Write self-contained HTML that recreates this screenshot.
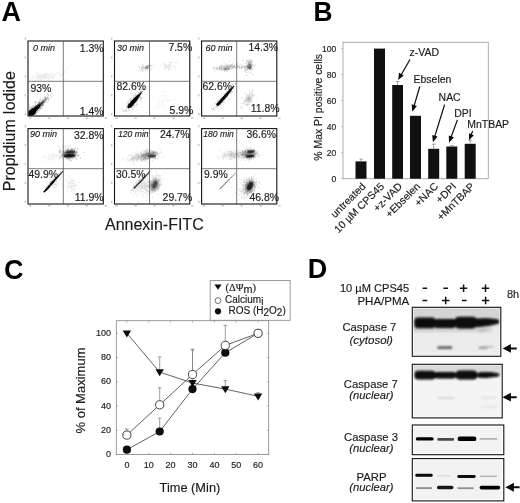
<!DOCTYPE html>
<html><head><meta charset="utf-8">
<style>
html,body{margin:0;padding:0;background:#fff;overflow:hidden;}
svg{display:block;filter:blur(0.45px);font-family:"Liberation Sans",sans-serif;fill:#1a1a1a;}
.ser{font-family:"Liberation Serif",serif;}
text{stroke:#1a1a1a;stroke-width:0.15px;}
.b{stroke:none;font-weight:bold;font-size:27px;fill:#000;}
.pc{font-size:10.45px;stroke:#1a1a1a;stroke-width:0.2;}
.tm{font-size:9px;font-style:italic;}
.it{font-style:italic;}
</style></head><body>
<svg width="520" height="503" viewBox="0 0 520 503">
<defs>
<filter id="b1" x="-50%" y="-50%" width="200%" height="200%"><feGaussianBlur stdDeviation="0.7"/></filter>
<filter id="b2" x="-50%" y="-50%" width="200%" height="200%"><feGaussianBlur stdDeviation="1.6"/></filter>
<filter id="b3" x="-50%" y="-50%" width="200%" height="200%"><feGaussianBlur stdDeviation="2.6"/></filter>
<filter id="bb" x="-20%" y="-60%" width="140%" height="220%"><feGaussianBlur stdDeviation="1.1"/></filter>
<filter id="bs" x="-20%" y="-100%" width="140%" height="300%"><feGaussianBlur stdDeviation="0.6"/></filter>

<filter id="bt" x="-20%" y="-100%" width="140%" height="300%"><feGaussianBlur stdDeviation="0.6"/></filter>
<filter id="bd" x="-5%" y="-5%" width="110%" height="110%"><feGaussianBlur stdDeviation="0.4"/></filter>
</defs>
<rect width="520" height="503" fill="#fff"/>

<!-- ===== PANEL A ===== -->
<g id="A">
<text class="b" x="1.6" y="21.4">A</text>
<!-- axis tick specks -->
<g fill="#b8b8b8"><rect x="24.7" y="37.5" width="1.1" height="2.2"/><rect x="29.0" y="117.6" width="2.4" height="1.2"/><rect x="24.7" y="56.4" width="1.1" height="2.2"/><rect x="47.9" y="117.6" width="2.4" height="1.2"/><rect x="24.7" y="75.3" width="1.1" height="2.2"/><rect x="66.8" y="117.6" width="2.4" height="1.2"/><rect x="24.7" y="94.2" width="1.1" height="2.2"/><rect x="85.7" y="117.6" width="2.4" height="1.2"/><rect x="24.7" y="113.1" width="1.1" height="2.2"/><rect x="104.6" y="117.6" width="2.4" height="1.2"/><rect x="111.2" y="37.5" width="1.1" height="2.2"/><rect x="115.5" y="117.6" width="2.4" height="1.2"/><rect x="111.2" y="56.4" width="1.1" height="2.2"/><rect x="134.4" y="117.6" width="2.4" height="1.2"/><rect x="111.2" y="75.3" width="1.1" height="2.2"/><rect x="153.3" y="117.6" width="2.4" height="1.2"/><rect x="111.2" y="94.2" width="1.1" height="2.2"/><rect x="172.2" y="117.6" width="2.4" height="1.2"/><rect x="111.2" y="113.1" width="1.1" height="2.2"/><rect x="191.1" y="117.6" width="2.4" height="1.2"/><rect x="198.3" y="37.5" width="1.1" height="2.2"/><rect x="202.6" y="117.6" width="2.4" height="1.2"/><rect x="198.3" y="56.4" width="1.1" height="2.2"/><rect x="221.5" y="117.6" width="2.4" height="1.2"/><rect x="198.3" y="75.3" width="1.1" height="2.2"/><rect x="240.4" y="117.6" width="2.4" height="1.2"/><rect x="198.3" y="94.2" width="1.1" height="2.2"/><rect x="259.3" y="117.6" width="2.4" height="1.2"/><rect x="198.3" y="113.1" width="1.1" height="2.2"/><rect x="278.2" y="117.6" width="2.4" height="1.2"/><rect x="24.7" y="125.1" width="1.1" height="2.2"/><rect x="29.0" y="205.2" width="2.4" height="1.2"/><rect x="24.7" y="144.0" width="1.1" height="2.2"/><rect x="47.9" y="205.2" width="2.4" height="1.2"/><rect x="24.7" y="162.9" width="1.1" height="2.2"/><rect x="66.8" y="205.2" width="2.4" height="1.2"/><rect x="24.7" y="181.8" width="1.1" height="2.2"/><rect x="85.7" y="205.2" width="2.4" height="1.2"/><rect x="24.7" y="200.7" width="1.1" height="2.2"/><rect x="104.6" y="205.2" width="2.4" height="1.2"/><rect x="111.2" y="125.1" width="1.1" height="2.2"/><rect x="115.5" y="205.2" width="2.4" height="1.2"/><rect x="111.2" y="144.0" width="1.1" height="2.2"/><rect x="134.4" y="205.2" width="2.4" height="1.2"/><rect x="111.2" y="162.9" width="1.1" height="2.2"/><rect x="153.3" y="205.2" width="2.4" height="1.2"/><rect x="111.2" y="181.8" width="1.1" height="2.2"/><rect x="172.2" y="205.2" width="2.4" height="1.2"/><rect x="111.2" y="200.7" width="1.1" height="2.2"/><rect x="191.1" y="205.2" width="2.4" height="1.2"/><rect x="198.3" y="125.1" width="1.1" height="2.2"/><rect x="202.6" y="205.2" width="2.4" height="1.2"/><rect x="198.3" y="144.0" width="1.1" height="2.2"/><rect x="221.5" y="205.2" width="2.4" height="1.2"/><rect x="198.3" y="162.9" width="1.1" height="2.2"/><rect x="240.4" y="205.2" width="2.4" height="1.2"/><rect x="198.3" y="181.8" width="1.1" height="2.2"/><rect x="259.3" y="205.2" width="2.4" height="1.2"/><rect x="198.3" y="200.7" width="1.1" height="2.2"/><rect x="278.2" y="205.2" width="2.4" height="1.2"/></g>





<!-- scatter clouds -->
<g fill="#000">
<clipPath id="k1"><rect x="28.5" y="41.5" width="74.5" height="74"/></clipPath><g clip-path="url(#k1)">
<ellipse cx="31.5" cy="112.8" rx="6.2" ry="3.3" transform="rotate(-42 31.5 112.8)" filter="url(#b1)" opacity="1"/>
<ellipse cx="36.5" cy="108" rx="5" ry="2.1" transform="rotate(-43 36.5 108)" filter="url(#b1)" opacity="0.95"/>
<ellipse cx="41" cy="103.8" rx="4" ry="1.5" transform="rotate(-44 41 103.8)" filter="url(#b1)" opacity="0.55"/>
<ellipse cx="28" cy="116" rx="4" ry="3" filter="url(#b1)" opacity="1"/>
<path d="M40.2 103.2h0M42.7 103.3h0M39.4 104.5h0M37.3 107.2h0M38.0 104.5h0M35.8 106.5h0M42.6 105.2h0M45.8 98.3h0M39.4 106.2h0M38.5 106.3h0M42.5 101.7h0M41.9 102.1h0M42.1 104.3h0M37.0 107.2h0M40.7 103.9h0M43.8 101.4h0M36.9 110.4h0M39.9 106.5h0M33.9 111.7h0M35.3 108.3h0M32.3 109.5h0M41.1 105.9h0M37.0 109.9h0M41.9 102.8h0M42.2 104.0h0M41.1 105.6h0M31.9 114.5h0M39.8 107.1h0M40.3 103.7h0M43.0 105.2h0M33.6 108.5h0M40.0 106.8h0M37.6 108.3h0M38.7 108.0h0M47.2 102.0h0M39.4 108.7h0M39.7 102.9h0M42.7 98.8h0M39.5 107.1h0M39.5 103.3h0M41.4 103.6h0M42.1 104.7h0M34.4 106.9h0M39.1 101.4h0M46.6 99.1h0M34.9 110.0h0M44.1 100.5h0M41.5 103.6h0M37.6 105.5h0M47.3 94.7h0M43.8 100.9h0M35.2 107.5h0M39.6 101.9h0M43.8 102.3h0M40.2 104.7h0M44.1 101.8h0M39.7 103.2h0M43.0 100.7h0M45.7 97.4h0M37.4 105.6h0M42.0 103.4h0M38.4 104.9h0M41.9 103.9h0M36.7 108.9h0M40.8 108.4h0M38.8 103.2h0M45.5 101.5h0M45.4 99.5h0M35.7 109.0h0M36.3 105.5h0M43.1 101.0h0M33.9 112.4h0M39.1 105.7h0M40.7 104.5h0M45.7 98.9h0M44.9 102.6h0M39.7 105.2h0M37.2 103.0h0M39.3 104.2h0M45.0 96.1h0M35.9 102.1h0M39.2 104.6h0M43.8 104.1h0M40.6 104.5h0M39.0 103.5h0M35.6 107.2h0M42.1 105.3h0M39.4 105.9h0M45.7 99.6h0M43.5 101.4h0M40.9 104.1h0M44.5 102.3h0M40.2 105.9h0M45.4 100.2h0M39.9 102.9h0M43.8 102.3h0M35.2 108.2h0M43.5 103.9h0M33.0 109.1h0M32.8 111.6h0M39.8 105.2h0M36.1 106.0h0M43.4 105.2h0M51.4 97.0h0M37.2 106.7h0M39.3 107.2h0M42.2 103.6h0M40.2 99.3h0M40.6 104.9h0M40.1 104.7h0M43.9 101.4h0M41.9 100.9h0M36.6 107.7h0M40.5 104.1h0M42.4 105.1h0M37.2 108.4h0M42.0 103.0h0M39.2 108.9h0M44.3 99.7h0M41.4 102.8h0M39.5 101.7h0M40.3 108.0h0M41.5 105.5h0M34.1 112.6h0M37.2 109.0h0M42.6 102.7h0M32.8 112.4h0M44.1 100.5h0M33.9 110.5h0M44.1 101.2h0M39.2 108.9h0M44.7 101.6h0M41.5 103.4h0M34.3 109.2h0M45.3 98.5h0M48.4 100.2h0M41.3 104.8h0M40.0 105.1h0M40.0 104.2h0M36.0 106.5h0M45.3 99.7h0M39.8 107.0h0M40.4 103.8h0M37.6 106.8h0M38.3 106.2h0M36.1 109.0h0M44.3 97.5h0M40.1 104.3h0M43.9 99.4h0M42.0 104.9h0M37.4 105.8h0M40.3 105.9h0M40.4 107.8h0M40.7 103.6h0M38.9 104.8h0M40.0 105.4h0M35.5 109.3h0M36.8 106.0h0M48.0 98.2h0M40.4 108.7h0M36.6 107.7h0M42.1 102.5h0M45.5 97.5h0M35.6 109.9h0M38.9 103.5h0M37.3 105.2h0M35.4 112.1h0M43.0 100.2h0M42.0 105.3h0M42.9 105.4h0" stroke="#000" stroke-width="0.8" stroke-linecap="round" opacity="0.4" fill="none" filter="url(#bd)"/>
<path d="M34.3 109.1h0M33.0 105.7h0M38.7 102.6h0M35.9 114.0h0M33.6 114.0h0M32.5 108.6h0M35.4 102.1h0M36.5 106.8h0M30.8 113.3h0M31.0 112.9h0M32.1 111.8h0M32.9 107.3h0M33.2 111.0h0M34.6 109.8h0M37.4 112.3h0M36.5 115.3h0M33.6 110.3h0M33.3 108.3h0M33.6 110.6h0M34.5 107.7h0M38.9 103.3h0M35.9 108.6h0M32.2 108.2h0M35.1 109.1h0M28.9 114.4h0M35.5 106.4h0M34.6 106.4h0M33.1 110.5h0M33.2 112.1h0M31.7 112.5h0M33.6 105.7h0M41.7 103.8h0M32.2 107.1h0M30.2 111.6h0M29.5 113.4h0M29.9 106.4h0M33.6 111.2h0M30.4 114.3h0M34.1 109.8h0M29.4 113.1h0M37.0 106.4h0M35.7 105.3h0M37.1 106.7h0M31.4 110.8h0M35.9 109.1h0M31.3 108.4h0M33.1 112.2h0M33.1 111.8h0M29.4 114.1h0M37.7 109.3h0M30.2 107.6h0M35.6 110.8h0M37.8 108.0h0M32.1 113.7h0M33.4 108.6h0M34.8 108.8h0M33.9 113.0h0M38.2 108.3h0M35.1 110.3h0M31.9 114.4h0M38.9 110.5h0M37.4 111.2h0M35.6 103.2h0M37.8 110.7h0M38.2 106.1h0M33.7 112.2h0M40.1 100.2h0M32.2 109.7h0M41.7 108.4h0M31.1 111.7h0M35.1 110.6h0M35.7 115.0h0M37.1 107.3h0M29.4 113.8h0M35.2 104.6h0M33.8 108.0h0M31.3 114.5h0M33.1 112.8h0M32.7 112.1h0M35.7 112.7h0M30.8 110.5h0M31.1 112.9h0M34.4 112.9h0M31.7 114.8h0M34.6 111.5h0M36.4 107.2h0M32.1 108.4h0M31.8 114.7h0M36.8 107.8h0M32.8 112.7h0M35.8 102.5h0M30.7 112.1h0M34.2 108.1h0M31.6 109.4h0M35.3 108.0h0M35.2 112.8h0M36.7 109.5h0M32.7 109.4h0M30.3 113.7h0M35.1 112.4h0M29.0 104.6h0M37.0 107.4h0M32.0 114.4h0M35.1 112.0h0M38.3 110.9h0M31.0 114.4h0M35.3 112.3h0M36.7 106.0h0M28.8 115.0h0M29.9 113.6h0M35.2 109.3h0M31.7 113.3h0M35.9 108.7h0M33.6 107.2h0M30.4 113.0h0M29.6 113.7h0M42.2 107.1h0M30.1 108.3h0M33.1 107.9h0M34.5 111.3h0M33.3 108.6h0M31.3 107.2h0M42.3 106.9h0M31.5 114.7h0M29.7 112.6h0M36.0 107.8h0M38.8 110.3h0M29.1 111.5h0M33.2 112.0h0M37.3 104.8h0M36.2 109.5h0M37.6 107.5h0M29.7 113.0h0" stroke="#000" stroke-width="0.8" stroke-linecap="round" opacity="0.4" fill="none" filter="url(#bd)"/>
<path d="M48.8 95.9h0M46.3 99.9h0M44.7 97.6h0M48.7 94.6h0M51.4 92.9h0M53.4 95.9h0M47.9 98.7h0M47.4 97.4h0M50.9 95.4h0M48.5 100.0h0M44.7 99.9h0M46.9 97.4h0M49.0 98.1h0M45.7 100.2h0M44.1 102.1h0M43.5 100.6h0M50.0 98.2h0M46.8 101.1h0M47.2 98.8h0M48.0 98.1h0M46.6 95.0h0M46.8 99.3h0M47.9 96.8h0M45.5 100.3h0M46.8 99.3h0M44.5 99.9h0M48.0 94.2h0M47.3 98.4h0M44.8 98.9h0M46.0 98.5h0" stroke="#000" stroke-width="0.8" stroke-linecap="round" opacity="0.3" fill="none" filter="url(#bd)"/>
<ellipse cx="44" cy="77" rx="13" ry="2.2" transform="rotate(-3 44 77)" filter="url(#b2)" opacity="0.06"/>
<path d="M38.4 77.7h0M41.5 80.4h0M58.1 72.0h0M47.7 74.6h0M57.0 73.5h0M66.5 72.2h0M45.3 77.5h0M34.9 72.6h0M31.9 79.0h0M39.5 76.6h0M45.9 77.3h0M48.9 77.7h0M48.5 79.1h0M43.9 77.6h0M41.6 77.6h0M44.3 77.5h0M38.8 73.6h0M38.3 76.6h0M44.7 77.0h0M65.0 72.0h0M67.0 78.7h0M59.5 75.7h0M52.6 73.2h0M37.3 73.1h0M60.8 74.7h0M44.4 76.3h0M44.1 74.9h0M41.8 76.9h0M45.9 75.0h0M40.3 78.1h0M44.0 74.9h0M33.1 77.2h0M41.1 79.0h0M70.4 80.7h0M44.1 74.2h0M42.3 75.6h0M50.7 74.2h0M52.9 77.8h0M32.6 74.7h0M42.6 75.5h0M55.1 75.7h0M47.8 74.0h0M46.2 74.2h0M62.0 74.2h0M37.2 72.2h0M45.7 73.1h0M39.2 76.0h0M61.4 75.7h0M37.4 72.9h0M39.1 75.8h0M52.4 77.8h0M51.7 77.3h0M60.3 75.2h0M53.3 77.4h0M41.7 75.4h0M37.5 74.3h0M50.8 74.2h0M35.1 80.5h0M41.1 79.4h0M38.0 79.2h0M49.0 74.8h0" stroke="#000" stroke-width="0.9" stroke-linecap="round" opacity="0.1" fill="none" filter="url(#bd)"/>
<path d="M59.3 72.8h0M75.9 71.9h0M63.4 67.8h0M57.1 72.7h0M60.0 73.5h0M62.6 73.4h0M66.4 68.3h0M57.6 73.9h0M49.9 74.8h0M58.5 72.9h0M60.0 71.6h0M59.4 68.6h0M67.4 69.2h0M62.7 73.8h0M63.6 67.6h0M53.5 73.6h0M65.6 72.1h0M70.7 64.7h0M64.5 70.9h0M60.3 68.5h0" stroke="#000" stroke-width="0.9" stroke-linecap="round" opacity="0.07" fill="none" filter="url(#bd)"/>
</g>
<path d="M127.8 108.2 L127.4 105.8 L134 98 L143.2 90.4 L137 100.6 L131.2 107.4z" filter="url(#b1)" opacity="0.95"/>
<path d="M128.8 106.8 L129.3 104.2 L134 99.2 L139 95.2 L135.6 100.8 L131.4 105.8z" filter="url(#bs)" opacity="1"/>
<path d="M139.9 96.3h0M143.2 89.1h0M141.0 89.7h0M131.1 100.4h0M136.2 96.6h0M131.6 98.0h0M135.4 101.3h0M139.6 92.6h0M129.1 108.1h0M140.8 97.8h0M135.3 102.5h0M138.4 92.7h0M135.9 101.0h0M132.7 105.6h0M134.2 98.8h0M135.8 96.3h0M134.0 100.7h0M134.0 96.8h0M133.7 105.2h0M122.0 109.0h0M136.3 95.3h0M136.6 97.2h0M134.3 100.0h0M134.5 100.8h0M138.7 96.1h0M131.8 103.0h0M132.5 105.8h0M130.4 99.6h0M139.0 95.1h0M127.3 107.1h0M139.2 95.2h0M131.6 104.4h0M128.2 105.5h0M138.4 94.0h0M134.6 102.3h0M129.0 107.9h0M131.6 102.0h0M140.5 98.6h0M142.0 97.6h0M130.3 101.5h0M136.1 99.3h0M140.3 100.2h0M132.3 105.1h0M135.8 99.5h0M133.6 100.9h0M131.1 103.1h0M131.7 103.2h0M133.6 100.1h0M135.1 101.7h0M131.1 103.4h0M131.6 102.6h0M137.1 94.1h0M134.8 99.9h0M136.5 95.6h0M138.8 94.8h0M137.8 99.2h0M144.0 90.1h0M131.2 105.7h0M137.8 97.4h0M132.7 102.6h0M141.6 91.6h0M140.7 92.2h0M126.8 111.6h0M128.5 104.6h0M138.5 99.2h0M137.3 97.1h0M136.1 96.5h0M133.1 100.8h0M135.0 98.0h0M136.9 97.9h0M132.7 100.6h0M139.8 97.1h0M123.5 111.4h0M133.7 95.4h0M128.7 105.4h0M135.4 94.0h0M133.0 102.1h0M131.7 106.6h0M136.4 99.8h0M128.5 104.1h0M129.2 104.7h0M129.8 110.7h0M134.3 101.5h0M136.1 98.5h0M139.6 97.1h0M136.6 104.4h0M140.1 97.2h0M134.3 101.1h0M134.1 101.9h0M137.2 98.8h0M137.6 95.1h0M131.2 101.5h0M133.0 102.3h0M132.1 100.8h0M134.3 100.5h0M130.4 105.6h0M141.3 98.4h0M131.2 102.1h0M135.8 98.6h0M130.3 104.9h0M136.1 99.7h0M137.0 100.2h0M131.6 102.6h0M141.4 90.0h0M133.4 97.4h0M140.2 91.1h0M138.7 96.8h0M131.3 104.3h0M131.1 101.8h0M135.3 98.4h0M134.3 100.7h0M134.9 101.3h0M132.0 101.8h0M126.1 109.7h0M130.7 100.1h0M123.2 110.8h0M137.7 100.9h0M128.1 102.2h0M130.6 104.2h0M133.4 102.3h0M134.7 99.2h0M127.0 107.2h0M126.6 109.6h0M129.5 106.3h0M125.4 111.1h0M127.5 103.8h0M140.5 92.9h0M128.5 105.3h0M136.0 97.2h0M128.6 108.1h0M136.1 100.2h0M133.8 103.6h0M133.1 100.8h0M137.6 99.2h0M142.9 93.5h0M136.3 101.3h0M136.3 101.9h0M129.7 105.7h0M136.2 97.9h0M134.0 103.1h0M135.7 95.4h0M134.1 101.4h0M140.6 91.8h0M125.2 110.5h0M130.5 100.6h0M136.5 95.6h0M132.5 102.7h0M131.8 105.9h0M134.2 103.4h0M128.1 107.8h0M134.3 100.2h0M143.1 87.9h0M139.3 95.7h0M129.0 106.3h0M131.1 106.0h0M134.6 104.9h0M138.2 96.0h0M128.6 103.5h0M130.0 103.5h0M135.8 95.0h0" stroke="#000" stroke-width="0.8" stroke-linecap="round" opacity="0.35" fill="none" filter="url(#bd)"/>
<path d="M126.5 107.5h0M133.1 100.0h0M132.8 105.3h0M128.4 110.8h0M135.9 105.7h0M135.2 101.9h0M132.5 108.1h0M132.7 110.0h0M130.5 106.4h0M128.3 101.3h0M129.9 100.8h0M130.7 98.6h0M137.8 104.4h0M132.1 99.7h0M137.3 103.2h0M134.0 104.1h0M131.0 113.0h0M133.0 107.3h0M131.6 103.8h0M129.6 105.8h0M133.5 102.4h0M130.5 106.4h0M127.4 106.8h0M134.6 100.5h0M136.4 106.1h0M127.7 101.0h0M134.0 102.7h0M131.6 100.0h0M132.3 104.3h0M126.6 114.2h0M129.1 107.0h0M131.6 107.9h0M124.8 104.9h0M134.1 106.5h0M132.7 100.2h0M131.2 107.7h0M128.5 108.8h0M130.3 93.8h0M128.1 104.9h0M128.3 109.2h0M135.2 107.3h0M132.8 104.2h0M129.8 107.7h0M129.8 99.9h0M133.0 109.3h0M132.8 111.3h0M131.5 104.5h0M132.5 102.2h0M125.6 103.8h0M133.9 105.7h0M137.0 110.5h0M139.9 97.7h0M132.1 109.6h0M135.8 101.8h0M128.6 103.3h0M133.7 108.0h0M130.0 100.4h0M132.8 101.9h0M134.9 101.7h0M133.9 105.7h0" stroke="#000" stroke-width="0.8" stroke-linecap="round" opacity="0.18" fill="none" filter="url(#bd)"/>
<ellipse cx="147" cy="67.2" rx="2.6" ry="1.5" transform="rotate(-15 147 67.2)" filter="url(#b1)" opacity="0.26"/>
<path d="M146.9 65.8h0M147.1 67.1h0M143.2 65.3h0M141.8 66.2h0M146.2 67.7h0M143.6 66.8h0M142.1 68.2h0M142.3 68.3h0M145.1 70.4h0M140.9 70.4h0M142.0 68.4h0M141.5 70.2h0M146.3 66.5h0M147.1 66.9h0M152.1 67.5h0M141.3 67.0h0M143.9 67.7h0M148.3 65.4h0M145.4 67.9h0M145.5 69.9h0M150.8 65.6h0M145.1 68.1h0M142.4 67.2h0M141.8 67.0h0M146.7 65.8h0M147.3 69.3h0M142.6 71.5h0M143.2 68.8h0M147.4 66.4h0M147.9 68.1h0M144.0 67.6h0M148.0 68.2h0M147.8 67.6h0M140.8 69.1h0M145.2 68.6h0M147.1 66.6h0M144.2 67.4h0M139.3 66.7h0M145.1 67.2h0M147.8 65.3h0M150.6 66.4h0M139.3 67.7h0M153.7 66.1h0M142.8 68.9h0M148.4 65.2h0M149.4 65.8h0M148.6 65.8h0M146.6 68.5h0M143.1 70.5h0M148.1 68.3h0M143.8 67.6h0M139.0 71.0h0M153.9 63.9h0M148.5 69.1h0M151.2 65.6h0M142.6 64.6h0M151.0 70.1h0M151.1 68.6h0M150.3 65.3h0M146.0 67.8h0" stroke="#000" stroke-width="0.8" stroke-linecap="round" opacity="0.28" fill="none" filter="url(#bd)"/>
<path d="M167.5 66.0h0M168.8 66.2h0M164.2 69.1h0M164.9 64.1h0M171.6 69.4h0M170.1 68.0h0M172.7 65.8h0M168.2 65.2h0M175.5 62.4h0M166.6 68.1h0M169.5 66.5h0M160.8 65.3h0M165.1 69.3h0M175.2 70.0h0M163.6 63.6h0M170.9 67.3h0M168.5 66.8h0M165.0 67.3h0M168.5 69.3h0M165.6 64.3h0M167.0 67.0h0M172.0 67.9h0M170.1 64.7h0M166.1 66.0h0M165.6 67.5h0M168.7 64.7h0M169.5 69.3h0M170.6 62.7h0M177.3 64.0h0M169.7 62.2h0M168.8 67.4h0M167.7 66.0h0M163.2 61.9h0M165.5 67.3h0M164.2 65.3h0M166.7 65.7h0M168.5 69.8h0M169.5 62.6h0M166.1 64.4h0M169.1 69.2h0M164.7 68.0h0M174.8 66.8h0M170.2 65.9h0M173.0 61.6h0M170.7 64.7h0M174.1 66.4h0M168.4 68.3h0M170.5 65.0h0M176.7 62.2h0M164.4 67.5h0M171.4 63.1h0M175.4 67.5h0M169.6 65.4h0M169.6 62.6h0M171.8 63.2h0M166.9 68.5h0M170.2 66.7h0M165.4 67.0h0M165.5 65.6h0M166.4 67.0h0" stroke="#000" stroke-width="0.8" stroke-linecap="round" opacity="0.16" fill="none" filter="url(#bd)"/>
<path d="M152.2 109.7h0M157.8 99.9h0M165.4 110.6h0M161.6 101.7h0M165.1 105.1h0M173.3 95.0h0M167.9 101.4h0M164.7 100.6h0M175.3 103.4h0M172.1 90.0h0M161.0 105.3h0M168.8 100.1h0M167.4 99.2h0M160.9 98.1h0M165.3 99.8h0M162.9 103.0h0M157.6 90.4h0M165.6 95.4h0M162.5 102.1h0M162.1 101.1h0M157.3 96.0h0M164.0 97.1h0M166.0 96.2h0M165.1 100.9h0M156.6 105.7h0M169.7 96.1h0M155.5 107.5h0M161.7 105.4h0M171.7 100.7h0M159.5 104.2h0M165.0 91.8h0M173.2 93.1h0M165.3 93.1h0M163.9 98.2h0M166.2 99.6h0M170.6 99.9h0M153.7 97.7h0M164.9 87.5h0M158.6 102.0h0M162.2 91.1h0M161.7 95.8h0M161.3 97.2h0M168.3 95.0h0M163.0 91.7h0M167.2 95.5h0M166.5 101.6h0M159.8 103.0h0M164.0 104.4h0M174.4 98.3h0M167.7 97.1h0M163.3 94.7h0M163.3 103.4h0M164.3 87.9h0M163.3 108.5h0M169.6 99.8h0M162.2 95.1h0M162.8 102.5h0M167.7 108.8h0M161.4 102.1h0M163.2 107.3h0M159.3 100.0h0M158.0 106.5h0M159.5 107.1h0M174.9 104.2h0M159.6 108.4h0M161.7 101.0h0M161.7 100.5h0M165.6 95.5h0M168.2 100.5h0M163.8 105.7h0" stroke="#000" stroke-width="0.8" stroke-linecap="round" opacity="0.09" fill="none" filter="url(#bd)"/>
<path d="M216.6 105.6 L216.2 104.2 L225 94.5 L233.8 85.4 L234.4 86.2 L227 96.6 L218.4 106z" filter="url(#bs)" opacity="1"/>
<path d="M219 102.5 L226 94.5 L231 89.6 L227 96 L221 102.6z" filter="url(#bs)" opacity="1"/>
<path d="M218.9 104.6h0M227.3 92.5h0M227.7 95.8h0M225.8 94.9h0M214.5 109.7h0M223.9 97.0h0M227.5 92.7h0M222.4 102.3h0M224.7 95.8h0M211.7 109.0h0M227.2 92.2h0M221.0 100.0h0M230.6 93.1h0M215.6 107.1h0M228.7 93.3h0M222.5 97.1h0M228.8 92.2h0M220.5 102.2h0M223.0 101.3h0M235.0 83.3h0M220.9 101.6h0M221.3 100.7h0M222.3 97.3h0M219.5 102.3h0M230.1 89.6h0M231.1 85.1h0M221.5 100.9h0M216.5 106.7h0M229.9 89.5h0M228.8 89.3h0M229.8 92.9h0M230.4 90.1h0M221.1 102.1h0M224.8 98.5h0M217.3 104.0h0M218.2 105.1h0M229.1 90.8h0M221.1 100.3h0M235.6 83.5h0M224.9 96.1h0M222.3 100.9h0M228.5 92.1h0M233.2 86.2h0M226.7 93.5h0M218.8 103.6h0M225.6 93.8h0M230.9 88.4h0M222.0 99.3h0M220.2 100.5h0M229.4 90.7h0M224.7 95.3h0M220.7 104.2h0M223.7 99.6h0M221.2 101.1h0M225.9 94.8h0M226.9 97.5h0M230.4 90.2h0M227.9 92.4h0M217.1 105.6h0M226.8 94.4h0M230.1 92.4h0M226.7 93.9h0M231.3 92.2h0M221.1 99.0h0M220.4 102.4h0M228.2 90.5h0M220.8 103.8h0M213.6 108.5h0M229.5 90.7h0M221.7 101.3h0M224.0 99.1h0M216.7 103.6h0M217.7 103.8h0M217.7 102.0h0M222.8 98.6h0M226.2 94.3h0M212.9 109.3h0M227.6 91.7h0M218.4 102.9h0M218.6 102.0h0M228.3 93.0h0M225.4 98.0h0M215.3 103.8h0M233.5 86.0h0M219.9 101.1h0M226.1 95.5h0M224.7 94.7h0M231.3 88.4h0M221.4 98.3h0M230.0 91.3h0M220.9 100.8h0M229.9 90.0h0M221.1 101.1h0M222.5 98.4h0M232.5 84.6h0M226.6 95.1h0M225.3 96.1h0M235.4 83.7h0M227.1 95.2h0M221.5 102.0h0M227.2 91.6h0M218.0 102.6h0M231.3 91.2h0M231.6 90.7h0M221.1 99.2h0M220.4 99.2h0M224.8 95.0h0M224.2 96.1h0M218.4 100.9h0M227.3 93.3h0M213.4 107.1h0M221.4 98.1h0M223.3 99.4h0M222.6 97.6h0M226.0 94.7h0M219.0 103.9h0M228.1 93.8h0M223.3 97.3h0M221.3 100.2h0M217.1 103.6h0M220.1 104.5h0M226.8 94.9h0M218.8 101.2h0M224.8 96.1h0M230.3 91.0h0M230.0 91.0h0M233.7 89.0h0M224.2 99.2h0M218.7 102.3h0M229.4 90.7h0M225.0 93.8h0M230.2 90.3h0M224.7 96.5h0M232.6 91.7h0M228.7 91.8h0M226.3 90.9h0M226.4 93.2h0M226.6 94.3h0M224.6 94.3h0M224.9 94.6h0" stroke="#000" stroke-width="0.8" stroke-linecap="round" opacity="0.4" fill="none" filter="url(#bd)"/>
<path d="M221.0 101.6h0M223.2 98.7h0M220.2 99.5h0M217.1 101.6h0M221.9 94.7h0M223.9 105.2h0M217.7 99.6h0M220.5 107.9h0M220.6 104.0h0M223.4 96.9h0M214.4 104.1h0M223.8 102.0h0M227.7 100.2h0M218.9 99.8h0M222.2 98.6h0M220.4 106.0h0M227.0 95.6h0M229.5 99.3h0M221.7 98.1h0M217.3 107.5h0M216.1 101.8h0M229.3 99.9h0M226.2 92.3h0M218.6 95.1h0M225.8 95.1h0M219.7 102.1h0M225.1 104.0h0M221.3 99.4h0M223.4 98.4h0M218.1 106.8h0M228.2 99.2h0M226.2 94.9h0M220.3 106.1h0M218.6 106.0h0M222.6 98.2h0M220.0 102.6h0M214.3 109.0h0M222.9 95.4h0M224.9 101.5h0M217.7 99.4h0M231.2 94.0h0M224.3 101.1h0M219.3 102.7h0M220.8 98.3h0M218.1 103.5h0M220.4 103.7h0M224.7 99.8h0M220.7 102.6h0M222.5 103.4h0M226.4 92.8h0M225.3 97.2h0M221.6 94.3h0M225.2 99.3h0M223.9 98.4h0M226.0 93.8h0M224.2 102.1h0M229.4 94.2h0M213.4 98.8h0M221.2 101.0h0M214.6 102.7h0M223.0 103.1h0M228.6 102.3h0M225.7 93.6h0M220.0 102.6h0M221.5 99.6h0M221.5 102.0h0M220.8 103.9h0M220.6 106.7h0M220.3 98.1h0M219.4 109.2h0" stroke="#000" stroke-width="0.8" stroke-linecap="round" opacity="0.15" fill="none" filter="url(#bd)"/>
<ellipse cx="226.6" cy="69" rx="3.2" ry="1.5" transform="rotate(-10 226.6 69)" filter="url(#b1)" opacity="0.3"/>
<path d="M220.4 67.6h0M227.7 67.5h0M232.9 66.5h0M230.1 66.0h0M220.3 67.4h0M221.9 69.1h0M223.3 68.8h0M225.9 69.6h0M232.6 64.1h0M218.2 67.7h0M228.7 66.5h0M229.7 67.4h0M229.3 66.4h0M228.7 66.4h0M235.2 67.8h0M228.9 67.5h0M230.9 65.1h0M229.6 69.3h0M236.9 68.0h0M214.6 67.8h0M233.8 68.0h0M224.3 66.5h0M224.5 69.5h0M220.2 67.8h0M214.7 67.4h0M223.7 67.1h0M221.8 66.7h0M229.0 67.5h0M217.2 68.7h0M234.5 66.7h0M227.5 66.4h0M223.9 61.8h0M221.8 68.1h0M221.0 65.0h0M219.3 68.6h0M222.9 69.6h0M226.1 67.9h0M224.9 67.0h0M217.5 68.1h0M224.4 67.5h0M220.6 67.2h0M226.9 66.5h0M237.0 64.9h0M229.9 69.0h0M224.1 67.7h0M216.5 70.0h0M217.5 68.0h0M215.9 68.7h0M230.3 66.8h0M221.5 68.7h0M226.5 68.8h0M222.3 68.3h0M226.4 66.4h0M234.2 65.4h0M222.2 70.6h0M223.9 67.3h0M221.1 67.5h0M231.5 69.3h0M220.1 69.9h0M219.3 69.1h0M217.7 67.7h0M218.0 72.1h0M228.9 67.8h0M241.4 66.8h0M220.0 67.9h0M231.4 64.7h0M227.3 65.2h0M219.5 68.8h0M224.4 68.3h0M224.6 67.3h0M221.7 66.1h0M237.3 64.0h0M214.6 68.2h0M228.0 64.9h0M228.1 68.7h0M222.7 69.7h0M227.4 71.9h0M231.4 68.3h0M226.8 66.5h0M228.3 65.9h0M229.6 61.6h0M213.8 67.8h0M234.8 66.3h0M239.8 67.6h0M232.0 67.9h0M232.1 67.8h0M217.6 68.7h0M225.4 68.6h0M221.4 70.3h0M222.3 66.2h0M231.7 66.2h0M221.0 65.8h0M225.5 70.2h0M214.8 70.8h0M225.2 68.8h0M226.3 65.5h0M221.8 68.2h0M221.7 67.6h0M237.3 66.4h0M218.7 68.0h0M219.8 69.0h0M221.1 67.4h0M233.3 68.1h0M238.6 66.6h0M227.9 66.8h0M221.7 67.8h0M223.4 67.1h0M232.5 68.1h0M220.5 67.6h0M234.7 67.1h0M234.4 66.0h0M226.2 65.1h0M230.0 68.5h0M230.3 65.3h0M235.4 67.6h0M219.8 68.8h0M232.8 64.1h0M223.6 66.2h0M221.3 67.2h0M226.5 66.1h0M224.5 65.8h0M220.2 69.3h0M216.4 68.1h0M220.4 68.7h0M234.6 65.9h0M237.8 66.8h0M229.8 65.9h0M233.1 66.7h0M223.0 68.7h0M225.5 67.6h0M227.6 66.6h0M219.4 66.4h0M220.1 68.4h0M226.6 68.0h0M224.0 67.3h0M219.5 66.9h0M228.4 68.1h0M224.8 71.6h0M232.0 66.4h0M226.0 68.0h0" stroke="#000" stroke-width="0.8" stroke-linecap="round" opacity="0.28" fill="none" filter="url(#bd)"/>
<path d="M233.7 66.5h0M213.1 67.2h0M231.9 66.4h0M225.9 64.1h0M240.6 64.4h0M229.2 65.5h0M225.6 66.4h0M229.4 65.4h0M232.2 67.0h0M227.1 66.2h0M230.6 66.0h0M221.5 66.7h0M229.5 67.0h0M236.4 65.1h0M244.8 66.4h0M236.0 66.2h0M232.9 66.1h0M239.3 65.5h0M238.2 66.1h0M242.7 66.4h0M238.6 66.6h0M230.2 66.5h0M232.9 66.9h0M232.3 66.1h0M233.2 67.4h0M232.4 65.9h0M225.4 63.9h0M216.4 68.6h0M226.3 66.5h0M216.8 65.6h0M231.5 65.7h0M231.0 64.9h0M219.5 69.3h0M235.8 66.3h0M236.9 63.7h0M231.7 66.6h0M242.6 64.7h0M244.2 67.4h0M222.5 65.3h0M238.1 62.8h0M234.1 65.9h0M233.9 65.4h0M237.5 65.0h0M225.8 63.8h0M226.9 66.8h0M225.4 68.4h0M225.6 64.1h0M230.4 67.5h0M220.8 66.0h0M223.9 69.3h0" stroke="#000" stroke-width="0.7" stroke-linecap="round" opacity="0.2" fill="none" filter="url(#bd)"/>
<ellipse cx="249.3" cy="66.5" rx="2.2" ry="3" filter="url(#b1)" opacity="0.4"/>
<path d="M250.2 66.4h0M248.6 66.9h0M250.6 72.6h0M250.1 67.7h0M248.4 62.5h0M250.5 68.3h0M248.6 62.6h0M246.1 60.1h0M252.5 74.5h0M248.3 66.4h0M247.5 67.5h0M249.8 67.4h0M244.8 70.6h0M246.1 65.9h0M247.5 69.1h0M248.7 62.1h0M250.2 61.1h0M251.0 70.4h0M247.4 70.0h0M250.1 67.3h0M250.5 66.5h0M246.8 65.6h0M250.2 63.4h0M246.3 70.0h0M251.3 68.0h0M250.0 67.3h0M249.1 66.7h0M245.7 68.3h0M249.3 67.1h0M247.1 67.5h0M251.5 62.1h0M248.7 67.1h0M246.2 72.1h0M251.7 64.2h0M251.0 65.4h0M247.5 68.1h0M251.4 69.0h0M248.3 67.3h0M249.5 60.3h0M249.3 67.1h0M248.3 61.5h0M248.8 62.7h0M248.6 67.2h0M252.9 65.2h0M252.2 68.7h0M247.0 75.3h0M252.5 68.6h0M248.8 67.8h0M250.7 62.8h0M251.7 63.8h0M250.6 62.3h0M255.1 64.8h0M250.5 62.2h0M247.0 62.9h0M252.4 65.4h0M248.9 62.2h0M249.4 60.9h0M243.3 60.0h0M251.3 67.3h0M251.1 66.0h0M250.5 69.1h0M250.9 69.2h0M253.3 65.1h0M248.8 67.6h0M252.2 61.3h0M246.3 72.4h0M247.8 69.1h0M251.8 65.2h0M250.8 62.0h0M246.1 66.2h0M251.2 59.8h0M249.3 63.0h0M247.0 67.5h0M250.2 65.9h0M248.7 63.8h0M245.2 67.9h0M247.4 61.8h0M253.1 67.1h0M246.1 63.3h0M250.3 62.9h0M250.4 67.2h0M251.3 62.6h0M245.5 71.0h0M248.9 63.5h0M248.5 71.8h0M251.7 62.4h0M247.5 67.2h0M247.3 61.3h0M252.3 61.7h0M251.7 66.4h0M249.8 67.8h0M248.6 61.2h0M249.6 69.4h0M250.0 63.0h0M251.1 66.2h0M246.3 66.2h0M249.2 67.4h0M249.9 59.8h0M245.9 70.2h0M249.5 67.4h0M249.6 64.2h0M248.9 62.1h0M251.1 60.3h0M246.8 60.6h0M248.9 67.2h0M250.5 64.6h0M250.6 62.0h0M252.0 64.3h0M245.7 69.9h0M246.1 63.9h0" stroke="#000" stroke-width="0.8" stroke-linecap="round" opacity="0.33" fill="none" filter="url(#bd)"/>
<path d="M241.7 68.2h0M249.4 68.4h0M245.8 68.5h0M244.2 66.2h0M241.6 69.0h0M237.8 67.1h0M239.3 66.7h0M242.1 66.8h0M243.1 67.6h0M245.4 67.1h0M246.2 66.8h0M244.9 68.3h0M244.9 66.3h0M240.0 66.0h0M235.4 67.8h0M241.9 67.7h0M240.2 68.1h0M241.4 65.9h0M242.9 68.1h0M239.0 67.5h0M239.6 68.8h0M243.6 65.8h0M244.5 67.2h0M241.4 66.7h0M246.0 65.4h0M243.1 66.3h0M239.9 68.1h0M244.2 66.5h0M251.5 66.3h0M241.3 67.9h0" stroke="#000" stroke-width="0.7" stroke-linecap="round" opacity="0.25" fill="none" filter="url(#bd)"/>
<ellipse cx="249" cy="98.5" rx="1.8" ry="3" transform="rotate(30 249 98.5)" filter="url(#b2)" opacity="0.3"/>
<path d="M249.5 102.0h0M253.8 95.9h0M243.1 103.7h0M246.9 101.3h0M254.4 95.2h0M246.8 98.9h0M248.8 95.8h0M251.5 98.4h0M250.9 102.5h0M247.8 95.5h0M240.1 100.4h0M247.2 95.1h0M243.2 102.6h0M247.9 99.6h0M246.8 104.4h0M249.3 97.6h0M248.1 97.0h0M251.6 95.5h0M244.5 101.0h0M245.2 103.8h0M240.7 107.8h0M249.6 109.0h0M248.9 102.1h0M247.0 98.0h0M244.9 100.2h0M247.2 99.3h0M240.6 103.7h0M243.9 102.9h0M248.9 95.6h0M251.7 98.4h0M243.2 105.0h0M245.6 100.2h0M246.0 97.2h0M242.3 103.2h0M249.0 98.3h0M248.4 98.6h0M251.6 99.7h0M252.4 91.1h0M247.6 105.0h0M252.0 95.4h0M249.6 97.7h0M246.2 94.2h0M243.4 101.2h0M249.7 100.7h0M250.7 102.0h0M253.2 93.4h0M249.7 100.7h0M251.4 93.4h0M246.4 100.7h0M245.6 100.6h0M250.0 101.3h0M242.8 108.8h0M246.0 101.8h0M245.6 102.0h0M248.7 101.3h0M249.2 99.7h0M243.6 102.8h0M248.2 106.9h0M252.2 95.0h0M245.0 104.3h0M249.4 104.1h0M247.3 105.3h0M246.5 101.8h0M252.6 95.6h0M249.3 93.7h0M241.5 106.6h0M242.8 97.9h0M254.5 95.9h0M243.3 98.8h0M250.4 99.5h0M251.7 91.3h0M252.6 89.3h0M252.2 93.2h0M247.7 101.5h0M249.3 100.6h0M252.2 101.4h0M247.9 101.7h0M248.0 103.7h0M252.9 90.6h0M250.3 99.7h0M250.7 96.8h0M250.6 94.3h0M249.4 97.6h0M248.2 99.4h0M249.1 99.2h0M253.0 94.6h0M248.4 97.3h0M240.8 107.2h0M252.5 96.7h0M249.5 90.8h0M246.0 100.3h0M249.3 104.6h0M241.3 98.2h0M249.8 94.5h0M246.5 105.0h0M247.0 94.5h0M256.4 98.9h0M244.7 93.9h0M251.1 101.5h0M249.0 105.1h0M248.0 103.8h0M247.6 99.6h0M246.0 104.3h0M246.0 99.1h0M247.0 104.8h0M249.8 92.7h0M252.0 93.2h0M247.7 104.5h0M249.8 92.8h0M248.1 98.3h0" stroke="#000" stroke-width="0.8" stroke-linecap="round" opacity="0.2" fill="none" filter="url(#bd)"/>
<path d="M43.6 192.3 L43.4 191.5 L52.2 181.6 L62.9 170.7 L63.4 171.2 L53.6 182.4 L44.6 192.5z" filter="url(#bs)" opacity="1"/>
<path d="M45.6 190 L52.2 181.6 L58.6 175.4 L54.2 182 L46.8 190.4z" filter="url(#bs)" opacity="0.95"/>
<path d="M53.8 184.1h0M52.3 185.9h0M54.3 187.5h0M61.0 178.6h0M42.0 193.1h0M56.6 178.7h0M63.9 173.9h0M53.1 182.5h0M53.3 183.0h0M55.4 178.9h0M61.1 175.1h0M49.8 189.3h0M56.0 184.6h0M53.3 184.3h0M59.6 184.2h0M54.5 182.7h0M61.8 185.4h0M53.9 186.9h0M55.0 184.0h0M50.5 185.7h0M46.7 182.2h0M53.2 183.9h0M53.7 184.4h0M52.3 191.5h0M58.2 174.5h0M56.5 187.0h0M47.9 189.2h0M59.7 179.8h0M46.9 183.0h0M56.3 181.5h0M53.4 183.1h0M56.1 183.4h0M54.8 182.9h0M49.8 184.3h0M55.7 184.7h0M63.4 175.6h0M45.8 194.2h0M55.9 184.7h0M57.6 183.2h0M49.7 188.1h0M46.2 187.5h0M60.6 171.9h0M54.7 187.2h0M63.7 175.4h0M56.4 181.3h0M53.6 182.5h0M56.0 181.5h0M56.6 180.8h0M58.3 177.8h0M54.7 180.5h0" stroke="#000" stroke-width="0.8" stroke-linecap="round" opacity="0.14" fill="none" filter="url(#bd)"/>
<path d="M63.4 172.4h0M53.5 181.7h0M49.3 185.8h0M46.6 189.9h0M49.1 186.8h0M55.7 179.1h0M55.8 178.8h0M52.1 184.7h0M52.6 182.5h0M50.5 184.0h0M46.1 187.6h0M58.0 175.6h0M53.1 179.9h0M63.9 169.9h0M48.6 186.5h0M50.0 181.9h0M56.2 178.0h0M51.3 184.2h0M45.5 189.7h0M46.8 186.8h0M53.3 182.8h0M53.2 180.3h0M50.7 182.2h0M56.1 176.7h0M56.7 177.4h0M54.2 181.5h0M52.9 183.1h0M50.9 183.9h0M53.8 178.9h0M56.0 177.4h0M51.7 181.6h0M54.0 180.1h0M49.3 183.1h0M45.3 189.8h0M47.6 188.0h0M55.6 178.5h0M54.4 180.5h0M59.0 173.8h0M51.3 181.3h0M55.7 177.7h0M59.1 176.4h0M57.4 178.0h0M48.8 185.3h0M51.9 184.2h0M52.4 181.6h0M48.3 188.5h0M54.6 180.4h0M56.6 177.0h0M50.2 185.5h0M60.9 171.9h0M50.0 183.4h0M50.1 182.6h0M51.0 183.9h0M48.6 186.1h0M53.9 180.3h0M51.8 182.1h0M60.9 174.9h0M54.6 179.1h0M54.1 179.3h0M51.8 184.4h0M46.2 190.6h0M51.8 183.2h0M46.8 185.8h0M56.1 177.3h0M52.3 183.0h0M60.0 174.0h0M56.5 179.7h0M55.1 177.4h0M53.5 181.7h0M52.6 181.0h0M56.0 180.0h0M56.4 177.7h0M49.3 186.8h0M53.9 179.6h0M63.6 168.2h0M50.8 182.3h0M50.4 183.4h0M48.0 185.4h0M45.9 190.7h0M58.6 177.2h0M52.5 182.4h0M52.7 180.3h0M60.7 173.0h0M63.5 169.2h0M48.7 187.9h0M57.2 177.3h0M55.3 179.6h0M53.6 180.2h0M53.0 178.8h0M51.4 182.1h0" stroke="#000" stroke-width="0.8" stroke-linecap="round" opacity="0.35" fill="none" filter="url(#bd)"/>
<path d="M51.0 187.9h0M58.6 184.8h0M55.5 183.8h0M50.9 185.7h0M58.5 189.9h0M58.0 176.1h0M51.5 187.3h0M53.7 189.1h0M51.9 182.6h0M52.4 186.3h0M54.4 186.4h0M62.1 187.0h0M58.9 175.8h0M48.8 190.4h0M56.4 185.4h0M55.3 184.0h0M52.1 181.8h0M55.3 185.5h0M54.1 185.5h0M59.4 181.2h0M55.9 188.0h0M56.8 186.5h0M55.9 184.8h0M56.0 184.2h0M52.0 182.4h0M58.1 180.1h0M55.5 184.5h0M54.7 182.5h0M55.0 184.4h0M49.8 186.0h0M55.5 190.2h0M56.1 192.2h0M54.8 182.5h0M53.4 187.4h0M50.9 187.4h0M58.6 185.7h0M57.7 183.0h0M49.2 190.6h0M60.3 177.4h0M55.4 184.1h0" stroke="#000" stroke-width="0.8" stroke-linecap="round" opacity="0.1" fill="none" filter="url(#bd)"/>
<ellipse cx="69.5" cy="155.8" rx="6" ry="1.7" transform="rotate(-4 69.5 155.8)" filter="url(#b1)" opacity="0.85"/>
<ellipse cx="70.5" cy="152" rx="5" ry="1.6" transform="rotate(-4 70.5 152)" filter="url(#b1)" opacity="0.6"/>
<ellipse cx="69.5" cy="153.8" rx="7" ry="4" filter="url(#b2)" opacity="0.38"/>
<path d="M64.9 154.2h0M72.6 149.8h0M66.2 155.3h0M72.0 152.9h0M70.1 153.0h0M74.5 149.6h0M69.4 152.2h0M74.2 151.8h0M65.3 153.7h0M72.3 149.7h0M68.5 153.9h0M70.4 154.1h0M69.8 150.7h0M73.8 152.1h0M60.2 151.4h0M71.0 156.3h0M62.6 146.7h0M75.1 152.8h0M60.4 149.2h0M64.9 152.6h0M61.8 156.2h0M77.0 152.0h0M63.6 154.2h0M70.0 151.4h0M67.0 159.2h0M61.2 156.4h0M67.9 157.0h0M72.5 150.1h0M68.7 150.7h0M73.8 156.8h0M67.8 153.3h0M69.5 153.1h0M67.7 154.7h0M71.1 150.3h0M78.2 156.0h0M71.2 153.9h0M70.4 155.1h0M66.7 151.9h0M66.0 155.2h0M76.2 151.8h0M64.4 156.5h0M65.3 157.0h0M69.1 156.4h0M67.5 155.2h0M78.5 155.6h0M58.6 146.2h0M71.2 156.1h0M72.8 153.0h0M64.3 154.1h0M66.5 153.0h0M71.5 149.9h0M77.0 152.3h0M65.3 155.6h0M62.2 157.8h0M74.0 152.1h0M76.5 151.3h0M68.0 157.9h0M59.3 151.3h0M76.2 159.6h0M68.6 153.9h0M74.7 151.3h0M69.3 156.6h0M67.8 158.5h0M67.4 149.8h0M76.3 158.2h0M76.1 153.0h0M59.7 158.0h0M65.2 152.7h0M77.7 149.4h0M67.8 155.2h0M63.2 156.4h0M69.5 159.7h0M69.0 158.6h0M69.1 155.7h0M67.3 153.1h0M68.1 152.3h0M67.4 153.0h0M71.0 151.5h0M65.8 153.0h0M68.2 146.7h0M68.8 154.3h0M75.5 153.7h0M71.2 161.0h0M69.0 155.9h0M72.0 152.5h0M71.4 155.4h0M74.5 150.4h0M71.8 152.1h0M77.8 148.6h0M75.7 157.8h0M69.3 155.5h0M67.6 150.5h0M73.6 153.6h0M71.9 156.5h0M69.1 155.2h0M62.7 154.9h0M61.1 151.4h0M71.1 152.0h0M73.0 154.1h0M73.2 156.4h0M63.6 151.5h0M74.3 150.7h0M67.0 157.0h0M71.3 151.2h0M71.4 156.8h0M65.8 154.5h0M66.8 156.3h0M60.0 158.7h0M65.3 155.7h0M61.2 156.0h0M71.5 151.2h0M69.8 151.9h0M73.7 155.6h0M71.1 158.1h0M66.6 157.7h0M71.1 160.3h0M67.7 154.7h0M72.3 154.4h0M71.0 156.6h0M65.0 153.9h0M69.5 153.6h0M69.8 150.9h0M68.1 156.6h0M73.6 150.8h0M77.4 155.2h0M67.8 149.8h0M67.9 156.9h0M59.2 150.9h0M68.9 156.2h0M67.5 149.3h0M59.6 152.6h0M70.8 157.1h0M72.2 151.5h0M66.1 154.0h0M67.8 152.5h0M65.1 147.3h0M73.0 154.7h0M62.5 155.0h0M68.1 150.7h0M78.5 155.4h0M69.7 151.6h0M71.7 151.0h0M68.8 153.8h0M64.1 151.9h0M69.3 160.2h0M71.4 149.4h0M64.8 155.9h0M71.1 156.6h0M75.2 148.3h0M74.4 148.9h0M62.2 155.4h0M65.0 152.5h0M62.1 154.9h0M74.4 157.0h0M72.3 152.8h0M72.7 150.8h0M65.5 146.2h0M64.1 154.4h0M69.9 151.2h0M70.0 154.7h0M65.6 154.4h0M70.2 149.9h0M72.5 158.6h0M70.5 156.8h0M64.7 156.2h0M59.8 150.5h0M68.3 152.7h0M70.3 152.3h0M68.3 152.6h0M67.5 150.7h0M66.3 155.0h0M72.8 154.4h0M69.3 154.8h0M70.1 152.4h0M65.0 157.4h0M66.6 154.3h0M70.3 146.1h0M64.9 152.0h0M63.7 153.6h0M68.0 156.5h0M75.0 153.0h0M70.4 153.1h0M76.2 151.9h0M68.9 155.7h0M68.1 152.5h0M63.1 152.1h0M66.8 151.7h0M76.1 155.4h0M71.0 152.3h0M72.9 149.1h0M72.7 155.5h0M69.5 151.8h0M68.6 154.8h0M70.0 154.8h0M72.6 157.2h0M71.6 156.7h0M71.8 152.2h0M70.2 153.3h0M66.0 150.2h0M68.3 158.5h0M65.2 155.0h0M74.1 157.7h0M59.8 152.9h0M68.5 148.1h0M80.5 158.1h0M67.9 154.1h0M64.3 154.2h0M69.4 154.0h0M75.4 155.6h0M68.8 155.3h0M72.3 149.3h0M70.0 156.8h0M67.8 152.3h0M84.0 152.5h0M69.8 158.6h0M67.0 156.4h0M67.2 152.9h0M71.3 148.6h0M71.4 154.3h0M73.1 155.3h0" stroke="#000" stroke-width="0.8" stroke-linecap="round" opacity="0.36" fill="none" filter="url(#bd)"/>
<path d="M52.5 156.7h0M45.4 155.9h0M48.4 158.3h0M45.8 160.9h0M54.3 157.0h0M58.1 158.8h0M59.1 155.7h0M48.5 156.5h0M54.3 155.6h0M56.3 156.5h0M50.2 160.6h0M51.9 155.0h0M66.0 158.8h0M54.1 155.1h0M58.2 156.1h0M50.5 158.7h0M53.3 158.1h0M42.8 158.4h0M52.6 154.1h0M60.2 157.0h0M65.4 154.1h0M60.6 161.0h0M57.1 156.3h0M53.3 157.3h0M49.2 155.3h0M52.0 156.2h0M56.5 154.4h0M48.5 159.2h0M58.5 156.0h0M47.2 158.5h0M42.3 156.7h0M46.9 156.6h0M43.2 160.2h0M44.6 156.0h0M59.5 153.2h0M51.9 157.8h0M54.1 154.8h0M59.9 155.6h0M60.7 158.0h0M49.9 155.8h0M61.1 157.9h0M55.2 155.6h0M53.3 159.7h0M55.9 159.1h0M44.4 156.9h0M48.3 157.0h0M52.2 155.6h0M56.7 157.0h0M51.0 159.3h0M52.0 154.5h0M58.9 158.1h0M61.2 153.9h0M57.5 155.1h0M60.3 153.1h0M50.9 161.0h0M51.2 157.3h0M54.9 157.3h0M51.1 155.9h0M50.1 159.2h0M62.5 152.4h0" stroke="#000" stroke-width="0.8" stroke-linecap="round" opacity="0.13" fill="none" filter="url(#bd)"/>
<path d="M71.6 180.5h0M78.6 182.5h0M70.3 185.6h0M71.6 185.4h0M73.7 184.5h0M68.9 183.9h0M71.6 187.1h0M74.6 185.4h0M72.1 185.8h0M72.7 185.8h0M70.4 182.2h0M72.5 180.2h0M71.7 186.6h0M76.2 186.3h0M73.8 183.6h0M70.7 182.8h0M63.7 194.1h0M73.8 181.3h0M73.9 183.6h0M68.6 185.6h0M65.1 179.7h0M67.8 185.0h0M74.5 192.1h0M68.1 188.4h0M70.0 187.2h0M72.2 187.0h0M75.4 185.0h0M71.4 188.5h0M71.2 183.8h0M69.7 182.7h0M76.7 184.9h0M74.9 188.3h0M71.2 185.9h0M67.0 187.3h0M69.0 176.0h0M73.4 189.5h0M69.2 194.3h0M74.4 190.1h0M72.7 183.2h0M72.4 180.9h0M73.6 185.7h0M73.1 180.4h0M68.8 187.5h0M70.5 182.3h0M79.0 188.5h0M67.6 190.2h0M70.0 176.0h0M74.9 185.7h0M71.0 181.6h0M68.9 178.6h0M67.3 181.9h0M73.2 183.6h0M74.8 188.8h0M76.0 178.1h0M71.7 188.9h0M74.8 193.0h0M68.2 187.0h0M72.0 186.8h0M69.3 184.4h0M72.1 179.6h0M73.9 186.7h0M74.9 186.1h0M68.3 187.6h0M75.6 195.3h0M70.0 187.6h0M68.2 186.3h0M71.0 191.1h0M66.8 178.9h0M71.5 179.7h0M72.4 182.9h0M70.9 181.7h0M73.2 187.4h0M70.5 183.2h0M71.5 191.8h0M66.9 190.9h0M71.6 187.7h0M68.8 182.9h0M70.1 187.1h0M71.2 187.9h0M72.1 180.0h0M66.2 186.0h0M66.5 187.5h0M70.5 185.4h0M73.0 191.1h0M72.7 189.6h0M74.4 181.0h0M75.7 185.0h0M73.1 181.0h0M71.4 186.9h0M68.2 180.9h0" stroke="#000" stroke-width="0.8" stroke-linecap="round" opacity="0.13" fill="none" filter="url(#bd)"/>
<path d="M133.6 188.6 L133.4 187.8 L142 179 L149.8 170.8 L150.4 171.4 L143 180 L134.6 188.8z" filter="url(#bs)" opacity="0.75"/>
<path d="M144.8 176.3h0M142.8 179.2h0M145.4 176.5h0M141.3 182.6h0M133.8 187.2h0M148.6 172.4h0M139.2 180.8h0M147.5 174.9h0M142.6 178.7h0M144.3 178.1h0M148.6 171.8h0M142.3 179.2h0M148.0 175.1h0M134.2 187.8h0M145.3 177.3h0M140.2 182.5h0M140.2 181.4h0M140.0 180.0h0M143.2 180.0h0M148.6 173.4h0M133.3 190.3h0M139.9 179.5h0M136.7 183.3h0M144.9 174.2h0M138.5 182.4h0M143.7 179.5h0M139.6 183.2h0M144.0 177.9h0M145.7 176.3h0M139.7 183.3h0M141.0 180.6h0M134.8 187.9h0M142.5 179.7h0M143.5 175.6h0M138.2 183.4h0M146.9 176.6h0M131.4 190.4h0M132.5 189.6h0M134.3 187.1h0M138.5 183.0h0M141.8 181.6h0M140.5 181.2h0M140.0 180.7h0M142.3 175.7h0M138.5 182.8h0M134.0 185.7h0M134.2 185.7h0M151.1 171.6h0M130.8 192.4h0M139.0 180.6h0M148.1 174.7h0M143.5 179.0h0M136.7 184.4h0M141.5 181.4h0M143.8 175.9h0M145.7 174.6h0M136.0 184.3h0M143.7 176.7h0M142.7 180.4h0M145.1 175.0h0M146.5 173.8h0M138.8 182.0h0M134.6 187.9h0M142.6 178.9h0M149.6 173.2h0M143.6 177.3h0M141.2 179.1h0M151.5 169.5h0M136.3 185.9h0M144.5 176.2h0" stroke="#000" stroke-width="0.8" stroke-linecap="round" opacity="0.28" fill="none" filter="url(#bd)"/>
<ellipse cx="143" cy="186" rx="7" ry="3.5" transform="rotate(-40 143 186)" filter="url(#b3)" opacity="0.1"/>
<path d="M144.4 187.3h0M150.9 179.2h0M143.3 195.5h0M145.9 192.1h0M148.8 181.4h0M135.8 185.6h0M142.6 197.6h0M134.5 188.9h0M147.0 189.8h0M149.4 192.0h0M138.5 183.9h0M142.7 187.8h0M147.6 180.8h0M147.7 185.5h0M135.1 193.3h0M146.7 194.1h0M143.8 188.6h0M145.5 184.2h0M143.4 191.9h0M137.6 188.3h0M138.3 187.2h0M138.0 201.8h0M139.5 184.0h0M137.3 187.3h0M144.3 185.3h0M133.5 186.8h0M133.9 180.7h0M139.2 194.4h0M134.0 188.0h0M144.0 182.3h0M138.2 187.3h0M141.5 181.6h0M132.9 187.1h0M142.6 187.1h0M138.9 202.1h0M141.0 191.4h0M140.9 191.6h0M140.9 179.2h0M142.5 186.2h0M137.6 183.2h0M148.1 186.7h0M142.1 185.4h0M144.6 185.1h0M145.5 183.8h0M139.8 185.0h0M136.1 182.4h0M144.9 187.9h0M135.8 183.4h0M140.6 181.2h0M146.7 181.7h0M144.3 181.2h0M140.3 189.3h0M137.4 195.5h0M142.0 188.1h0M141.4 188.1h0M147.5 182.9h0M141.8 191.5h0M135.7 180.9h0M146.5 185.6h0M136.7 185.3h0M137.6 183.0h0M150.7 180.6h0M148.5 180.0h0M146.5 186.8h0M145.9 190.0h0M130.4 182.0h0M144.4 184.6h0M147.0 194.0h0M145.0 189.3h0M142.6 194.2h0M141.8 187.4h0M136.9 182.4h0M140.4 181.6h0M151.0 184.3h0M146.0 189.1h0M130.9 190.4h0M135.7 189.6h0M133.9 193.8h0M132.9 183.5h0M143.7 183.6h0M147.9 191.4h0M144.1 197.2h0M142.7 185.6h0M142.3 196.5h0M132.7 190.3h0M132.0 189.2h0M131.3 181.9h0M151.6 185.2h0M133.5 190.6h0M154.2 191.0h0M149.5 183.2h0M141.1 188.3h0M136.7 180.5h0M142.2 194.8h0M140.5 185.7h0M144.7 183.9h0M135.9 178.8h0M149.3 186.7h0M150.4 186.2h0M141.8 183.5h0M143.6 186.1h0M142.3 188.7h0M145.9 189.2h0M135.9 191.5h0M148.2 191.8h0M142.0 185.3h0M135.4 188.0h0M151.8 177.3h0M129.9 181.2h0M134.9 187.2h0M145.7 189.7h0M132.0 195.2h0M135.3 186.9h0M134.4 194.0h0M131.2 183.1h0M140.1 186.4h0M144.6 187.7h0M149.2 185.5h0M143.9 181.1h0M150.2 186.0h0M149.5 191.7h0M138.0 187.2h0M149.4 185.6h0M135.0 183.1h0M133.2 182.1h0M151.3 183.6h0M145.9 184.2h0M143.3 186.9h0M144.1 182.1h0M145.5 182.7h0M136.4 195.1h0M145.5 193.7h0M134.7 190.6h0M138.0 180.5h0M141.3 194.2h0M150.4 184.2h0M146.1 187.6h0M137.7 190.7h0M147.5 195.7h0M135.3 191.8h0M143.1 188.8h0M139.7 178.1h0M141.5 183.9h0M129.5 191.7h0M139.7 188.2h0M145.2 186.4h0M141.3 183.1h0M152.2 189.1h0M132.0 187.9h0M143.2 183.4h0M138.7 190.3h0M139.4 181.7h0M145.2 187.6h0M146.9 186.8h0M137.7 188.1h0M147.5 193.4h0M135.6 191.7h0M134.8 193.3h0M142.0 181.4h0M136.9 181.1h0M131.3 190.7h0M136.2 189.0h0M140.5 185.3h0M151.8 184.1h0M141.0 174.3h0M142.9 179.9h0M127.3 186.9h0M144.5 192.3h0M142.6 183.2h0M142.3 183.7h0" stroke="#000" stroke-width="0.8" stroke-linecap="round" opacity="0.11" fill="none" filter="url(#bd)"/>
<ellipse cx="152" cy="156.2" rx="4" ry="1.4" transform="rotate(-5 152 156.2)" filter="url(#b1)" opacity="0.55"/>
<ellipse cx="150" cy="154.5" rx="6" ry="2.8" transform="rotate(-8 150 154.5)" filter="url(#b2)" opacity="0.35"/>
<ellipse cx="143" cy="156" rx="12" ry="3" transform="rotate(-8 143 156)" filter="url(#b3)" opacity="0.12"/>
<path d="M144.1 158.8h0M154.9 156.3h0M147.6 156.4h0M151.0 155.6h0M138.3 154.6h0M155.9 153.0h0M152.1 156.6h0M152.8 155.1h0M157.1 158.6h0M148.6 154.5h0M148.0 149.6h0M153.5 153.8h0M152.1 155.5h0M148.5 156.3h0M150.0 155.3h0M146.7 153.6h0M154.1 158.2h0M154.6 152.9h0M150.0 156.9h0M159.9 153.0h0M140.9 153.5h0M148.9 158.7h0M158.2 147.9h0M147.1 153.5h0M141.1 157.4h0M157.2 153.3h0M153.0 156.5h0M143.2 155.9h0M153.8 153.5h0M144.9 161.1h0M142.3 155.7h0M148.8 154.9h0M146.7 153.0h0M143.5 154.2h0M148.0 157.0h0M144.4 157.3h0M150.1 155.1h0M149.4 153.5h0M154.0 156.2h0M146.7 151.5h0M142.3 155.4h0M142.4 155.6h0M148.1 153.4h0M158.2 154.4h0M154.1 153.0h0M146.0 153.8h0M155.5 158.8h0M143.7 157.8h0M155.7 157.3h0M147.7 155.6h0M154.3 156.9h0M153.4 156.6h0M148.6 158.3h0M152.3 160.6h0M143.8 155.5h0M149.4 155.9h0M155.6 154.3h0M170.9 143.7h0M153.1 151.4h0M150.2 155.2h0M144.4 157.5h0M155.3 153.0h0M141.1 159.2h0M145.8 158.9h0M151.6 154.0h0M143.6 159.5h0M158.7 158.2h0M155.9 155.5h0M146.3 153.3h0M147.2 159.1h0M142.5 155.8h0M142.0 155.4h0M152.2 155.2h0M153.0 153.5h0M152.0 157.5h0M151.5 156.9h0M147.1 158.6h0M151.9 156.3h0M141.4 154.5h0M149.7 154.8h0M158.1 156.2h0M156.8 153.3h0M148.2 162.5h0M147.8 154.9h0M157.1 152.8h0M159.9 156.6h0M141.8 158.2h0M147.4 155.5h0M151.0 154.5h0M156.6 155.3h0M145.4 157.9h0M153.5 156.6h0M148.0 154.7h0M162.9 154.4h0M152.4 156.9h0M149.3 157.2h0M146.9 148.2h0M155.2 152.3h0M153.2 152.9h0M143.8 155.5h0M151.0 155.5h0M142.7 158.5h0M145.8 157.3h0M142.6 155.9h0M142.5 156.3h0M146.6 159.9h0M144.2 154.5h0M152.7 155.6h0M154.6 158.3h0M148.6 156.2h0M143.0 151.2h0M154.3 155.5h0M138.6 155.9h0M139.2 156.4h0M154.1 157.2h0M153.5 155.8h0M155.0 153.9h0M148.9 157.5h0M143.0 157.2h0M147.0 155.9h0M153.0 155.5h0M145.6 156.4h0M145.8 155.0h0M142.0 155.2h0M143.4 156.2h0M154.0 152.3h0M151.8 151.9h0M143.8 159.2h0M143.8 155.5h0M146.7 155.6h0M152.7 154.5h0M143.4 156.2h0M148.8 155.4h0M138.0 157.0h0M142.6 154.3h0M152.4 157.1h0M154.4 152.9h0M143.8 158.6h0M144.9 151.3h0M153.8 152.1h0M148.0 157.9h0M146.7 155.3h0M152.4 153.2h0M151.0 156.0h0M155.5 151.9h0M154.1 154.8h0M145.9 150.4h0M149.0 154.3h0M149.2 153.7h0M142.5 157.6h0M144.7 158.1h0M154.8 152.5h0M141.6 160.3h0M155.0 153.1h0M150.6 150.1h0M148.2 149.7h0M153.2 158.5h0M152.3 154.7h0M156.2 152.8h0M147.3 153.8h0M148.2 152.8h0M148.9 158.6h0M160.0 153.6h0M155.5 158.8h0M144.7 155.5h0M147.2 149.9h0M146.2 157.8h0M149.7 154.3h0M150.9 154.5h0M162.8 157.2h0M139.7 156.0h0M155.8 157.2h0M152.2 154.9h0M145.7 154.0h0M149.1 156.6h0M146.9 154.2h0M150.5 158.1h0M155.6 156.7h0M141.5 156.5h0M157.2 155.7h0M147.9 156.9h0M157.9 153.4h0M152.3 157.0h0M156.5 153.7h0M153.1 156.3h0M155.4 152.1h0M150.1 155.4h0M145.4 156.9h0M153.2 152.8h0M153.5 153.7h0M161.1 152.4h0M139.1 158.5h0M148.5 153.7h0M155.8 155.5h0M143.5 159.8h0M148.7 156.3h0M160.8 149.8h0M157.6 154.5h0M145.4 158.4h0M157.5 153.5h0" stroke="#000" stroke-width="0.8" stroke-linecap="round" opacity="0.26" fill="none" filter="url(#bd)"/>
<path d="M148.8 155.5h0M144.8 155.7h0M143.1 155.1h0M138.3 159.0h0M136.3 159.4h0M138.3 158.7h0M140.5 156.5h0M144.9 160.2h0M144.0 159.9h0M137.6 156.6h0M140.6 156.7h0M143.6 158.8h0M127.0 157.7h0M134.2 158.9h0M133.8 158.2h0M138.2 155.9h0M137.8 156.9h0M137.5 154.3h0M133.0 157.1h0M144.7 152.1h0M143.1 161.1h0M127.7 162.2h0M140.6 159.4h0M131.3 159.2h0M153.9 156.6h0M137.0 160.1h0M137.4 159.5h0M141.1 158.7h0M138.2 155.5h0M139.8 157.9h0M152.1 153.8h0M141.5 154.4h0M146.3 153.6h0M149.2 156.3h0M132.8 160.4h0M153.0 151.9h0M146.2 159.5h0M148.2 158.5h0M133.2 157.4h0M146.4 154.9h0M143.4 156.3h0M136.3 159.7h0M158.0 153.1h0M144.2 154.0h0M138.4 158.0h0M141.0 152.6h0M147.4 156.0h0M149.5 157.7h0M144.8 156.8h0M150.0 156.8h0M151.9 155.9h0M130.7 160.1h0M136.4 157.9h0M132.5 156.6h0M140.8 156.4h0M151.5 154.8h0M145.7 158.5h0M132.5 161.6h0M138.0 158.2h0M148.0 154.1h0M135.7 156.3h0M139.3 156.7h0M143.0 159.3h0M125.9 160.2h0M146.3 155.8h0M142.6 155.0h0M144.9 157.9h0M132.5 158.9h0M134.1 157.9h0M135.5 158.0h0M142.7 159.9h0M140.7 156.6h0M141.8 160.1h0M154.7 156.9h0M150.5 155.3h0M134.8 159.7h0M135.0 157.6h0M153.4 153.0h0M137.6 156.9h0M150.7 153.3h0M152.9 155.8h0M135.9 157.8h0M138.2 158.5h0M141.1 158.5h0M132.3 152.0h0M132.6 158.9h0M136.4 154.0h0M146.9 156.1h0M136.3 155.9h0M138.6 157.5h0M137.0 160.3h0M128.8 155.5h0M151.9 155.3h0M121.7 160.1h0M134.3 154.2h0M144.8 157.5h0M129.2 159.0h0M144.7 155.1h0M149.8 153.8h0M134.5 164.5h0M141.7 155.9h0M130.8 155.0h0M143.8 154.4h0M140.7 156.1h0M141.7 155.9h0M150.9 154.9h0M143.5 154.3h0M150.9 156.2h0M145.0 155.1h0M130.2 156.0h0M141.9 155.0h0M143.9 155.5h0M129.1 160.7h0M150.8 156.1h0M140.6 156.2h0M143.1 156.5h0M133.2 158.6h0M141.4 160.9h0M142.3 155.3h0M137.7 158.3h0M141.0 158.3h0M123.1 158.0h0M150.9 155.5h0M131.4 158.8h0M122.8 159.1h0M132.8 159.4h0M133.9 160.2h0M144.8 158.4h0M132.9 157.9h0M142.5 157.0h0M133.4 162.9h0M157.2 151.7h0M144.5 156.7h0M155.9 156.0h0M132.2 158.7h0M145.6 157.3h0M132.7 158.6h0M145.0 157.7h0M145.9 158.6h0M127.5 158.8h0M131.3 158.9h0M130.9 158.5h0M128.1 158.3h0M134.4 158.0h0M132.2 156.1h0M129.0 160.5h0M141.5 160.2h0M145.0 159.6h0M130.2 161.3h0M135.4 155.9h0" stroke="#000" stroke-width="0.8" stroke-linecap="round" opacity="0.2" fill="none" filter="url(#bd)"/>
<ellipse cx="154.8" cy="184.5" rx="2" ry="4" transform="rotate(24 154.8 184.5)" filter="url(#b1)" opacity="0.45"/>
<ellipse cx="154.6" cy="185" rx="4" ry="6.4" transform="rotate(24 154.6 185)" filter="url(#b2)" opacity="0.4"/>
<path d="M164.9 173.1h0M153.8 181.5h0M150.8 193.1h0M163.3 179.1h0M152.8 181.2h0M156.3 187.3h0M154.2 188.0h0M150.9 192.3h0M155.8 175.9h0M155.7 185.7h0M151.6 188.4h0M160.1 180.3h0M158.0 186.3h0M147.0 191.9h0M150.5 190.4h0M152.6 187.1h0M156.7 171.6h0M151.8 183.0h0M154.1 186.9h0M154.7 183.3h0M150.2 182.7h0M146.9 198.4h0M156.5 184.7h0M153.3 179.1h0M151.6 185.0h0M159.6 185.5h0M158.8 185.2h0M150.3 182.6h0M149.3 186.9h0M155.2 186.5h0M153.8 178.1h0M154.2 184.1h0M152.4 186.6h0M157.1 183.5h0M145.3 187.2h0M147.0 185.9h0M153.3 179.0h0M156.7 187.7h0M150.1 193.9h0M146.7 190.0h0M156.1 185.3h0M154.7 190.0h0M155.3 181.6h0M156.6 178.0h0M154.7 188.1h0M157.4 187.6h0M154.0 187.5h0M156.1 185.5h0M153.8 186.4h0M154.6 182.2h0M151.1 186.0h0M153.6 189.1h0M153.9 184.4h0M152.3 188.4h0M160.7 178.0h0M157.5 182.0h0M154.0 192.7h0M146.7 191.1h0M155.6 186.8h0M153.2 183.8h0M155.0 178.2h0M151.5 185.6h0M156.3 190.0h0M159.9 179.2h0M151.5 186.7h0M150.5 185.9h0M153.7 187.0h0M155.6 179.3h0M158.0 189.5h0M153.6 176.4h0M146.6 189.6h0M153.6 185.3h0M157.0 179.7h0M152.2 191.3h0M154.3 191.2h0M161.6 184.6h0M149.2 194.7h0M155.2 179.7h0M149.1 184.3h0M152.9 190.7h0M161.6 175.7h0M151.8 189.3h0M158.0 186.1h0M154.7 185.0h0M160.9 181.9h0M154.8 186.9h0M154.0 178.6h0M154.8 179.8h0M151.3 181.1h0M152.3 177.3h0M152.1 192.5h0M159.7 180.0h0M161.5 183.9h0M155.1 183.5h0M153.9 184.7h0M149.9 187.3h0M155.6 189.9h0M156.3 184.1h0M153.8 182.5h0M156.4 186.0h0M154.5 189.4h0M148.1 185.9h0M157.7 183.5h0M159.2 175.8h0M149.2 194.3h0M151.5 188.8h0M158.9 188.3h0M158.1 188.4h0M160.7 184.8h0M153.5 179.0h0M153.5 182.7h0M157.5 185.1h0M152.6 180.7h0M155.6 177.5h0M150.3 181.4h0M158.5 189.9h0M158.5 184.0h0M155.8 185.7h0M159.4 175.8h0M153.9 183.5h0M153.8 184.0h0M158.8 180.2h0M156.2 176.2h0M157.1 188.4h0M154.9 180.7h0M151.2 186.2h0M159.0 184.7h0M152.9 187.7h0M156.8 184.1h0M156.5 177.6h0M148.6 181.9h0M156.8 184.2h0M149.6 186.4h0M158.5 184.3h0M151.1 181.3h0M147.7 186.7h0M153.1 190.7h0M154.2 189.0h0M152.8 189.9h0M150.4 185.6h0M155.5 189.6h0M148.8 187.2h0M152.5 186.3h0M152.3 184.3h0M153.3 185.2h0M152.0 197.0h0M152.8 184.3h0M156.6 184.6h0M157.2 184.2h0M150.0 182.8h0M150.9 184.7h0M155.8 179.4h0M157.0 175.2h0M154.8 186.7h0M152.6 175.3h0M156.0 187.1h0M156.4 186.6h0M151.8 190.1h0M147.4 190.9h0M153.9 186.7h0M154.3 181.8h0M158.5 180.3h0M156.0 181.3h0M156.5 186.1h0M157.6 175.0h0M158.4 187.1h0M148.3 182.1h0M150.5 186.7h0M156.6 184.1h0M150.3 183.6h0M158.1 182.5h0M152.2 181.4h0M158.5 177.0h0M151.8 184.4h0M150.2 191.5h0M154.7 186.0h0M153.6 186.5h0M155.6 180.1h0M157.6 194.2h0M156.2 181.5h0M150.3 187.5h0M156.9 186.6h0M158.8 181.6h0M155.9 191.2h0M159.5 187.3h0M151.7 184.7h0M156.6 188.4h0M157.8 186.3h0M155.4 183.3h0M154.3 187.4h0" stroke="#000" stroke-width="0.8" stroke-linecap="round" opacity="0.24" fill="none" filter="url(#bd)"/>
<path d="M219.7 189.2 L219.5 188.6 L228 180 L235.8 172.4 L236.2 172.8 L228.6 180.8 L220.3 189.3z" filter="url(#bs)" opacity="0.5"/>
<path d="M239.0 194.2h0M241.3 193.1h0M237.7 193.9h0M233.5 195.0h0M237.6 184.7h0M238.5 191.2h0M241.1 188.9h0M246.9 186.2h0M232.6 184.3h0M241.6 184.0h0M229.9 185.4h0M235.8 179.6h0M238.5 190.1h0M229.7 186.9h0M231.7 187.6h0M241.8 189.0h0M241.4 191.3h0M240.4 183.4h0M237.0 186.4h0M251.8 177.3h0M240.2 173.7h0M236.7 175.4h0M249.4 196.2h0M244.1 176.0h0M239.1 189.8h0M247.0 195.9h0M241.8 184.3h0M244.2 196.8h0M242.2 198.1h0M235.9 192.7h0M245.9 201.2h0M241.8 190.7h0M236.0 182.6h0M237.2 190.1h0M245.8 184.4h0M239.2 179.2h0M241.2 179.4h0M244.3 200.9h0M241.6 183.8h0M233.4 186.9h0M244.2 183.1h0M245.7 187.9h0M245.3 185.6h0M249.1 184.6h0M242.8 179.8h0M244.9 178.6h0M248.9 182.6h0M239.5 188.8h0M249.7 199.5h0M249.7 193.4h0M244.9 198.0h0M250.2 190.0h0M245.3 186.6h0M236.6 179.1h0M246.7 187.1h0M242.6 174.2h0M243.1 185.3h0M241.8 196.9h0M247.8 189.1h0M243.8 193.9h0M237.5 184.8h0M243.4 178.9h0M244.6 184.2h0M237.4 184.7h0M238.8 194.4h0M239.1 199.0h0M238.0 182.7h0M242.7 185.0h0M246.1 186.3h0M250.5 185.0h0" stroke="#000" stroke-width="0.8" stroke-linecap="round" opacity="0.08" fill="none" filter="url(#bd)"/>
<ellipse cx="250" cy="156.3" rx="4.4" ry="1.3" transform="rotate(-6 250 156.3)" filter="url(#b1)" opacity="0.8"/>
<ellipse cx="251" cy="151.6" rx="3.8" ry="1.3" transform="rotate(-8 251 151.6)" filter="url(#b1)" opacity="0.7"/>
<ellipse cx="249.5" cy="154" rx="6" ry="3.6" filter="url(#b2)" opacity="0.36"/>
<path d="M244.6 156.8h0M250.0 155.1h0M251.0 160.0h0M251.1 152.3h0M244.8 157.4h0M249.1 155.4h0M242.6 154.7h0M253.3 152.7h0M245.5 155.4h0M248.5 150.2h0M247.8 150.5h0M247.3 156.1h0M245.4 150.0h0M242.5 158.1h0M256.5 153.5h0M250.6 154.9h0M250.7 154.4h0M258.0 155.3h0M249.2 153.4h0M251.8 153.2h0M249.7 153.9h0M254.4 157.0h0M251.6 157.3h0M250.9 157.6h0M248.6 155.2h0M250.7 153.7h0M254.3 149.7h0M241.3 155.9h0M249.1 156.5h0M248.0 153.1h0M248.4 156.4h0M241.7 157.7h0M252.6 154.5h0M246.2 157.1h0M248.7 155.0h0M247.6 149.5h0M243.0 152.9h0M247.8 153.1h0M242.3 155.6h0M245.9 151.9h0M248.4 153.0h0M249.6 151.6h0M249.9 154.1h0M249.1 154.4h0M258.2 156.8h0M251.4 156.4h0M244.7 154.7h0M247.2 154.9h0M247.0 154.5h0M248.9 154.5h0M247.2 158.4h0M246.2 147.5h0M256.2 153.7h0M249.8 155.1h0M248.3 157.3h0M248.6 151.3h0M248.8 155.1h0M255.2 156.5h0M251.5 153.0h0M254.1 149.1h0M237.2 153.2h0M250.9 151.0h0M253.9 156.0h0M257.5 151.9h0M249.8 159.0h0M242.8 154.6h0M252.0 152.0h0M247.2 152.8h0M242.5 151.3h0M247.2 155.3h0M253.9 158.2h0M254.4 153.6h0M252.5 156.7h0M245.5 151.7h0M259.7 155.0h0M245.0 160.4h0M249.3 150.4h0M243.9 157.5h0M254.9 157.4h0M251.4 149.1h0M253.2 150.3h0M250.0 151.6h0M249.4 156.8h0M250.4 153.0h0M242.1 153.8h0M253.6 156.1h0M253.3 154.5h0M248.1 154.8h0M249.6 153.3h0M250.9 157.2h0M255.9 152.1h0M251.4 158.7h0M249.8 153.3h0M247.6 152.1h0M243.7 156.0h0M247.3 155.4h0M250.0 148.9h0M248.7 154.8h0M250.0 150.6h0M252.7 152.0h0M251.4 156.3h0M250.8 151.9h0M252.3 155.2h0M250.4 153.2h0M249.6 159.4h0M251.6 153.9h0M242.8 151.0h0M254.7 151.2h0M244.5 151.7h0M253.0 154.5h0M249.7 154.2h0M254.1 156.8h0M249.8 154.6h0M245.9 154.5h0M254.0 155.1h0M250.4 153.8h0M250.2 155.0h0M250.0 156.3h0M253.7 156.3h0M253.0 152.7h0M250.6 149.4h0M243.5 152.0h0M248.1 154.9h0M250.1 147.5h0M256.9 152.9h0M251.2 155.4h0M249.3 152.6h0M254.5 151.2h0M249.3 158.9h0M249.6 157.9h0M250.3 153.5h0M243.7 157.7h0M253.5 157.7h0M251.4 151.1h0M248.6 161.4h0M245.1 151.6h0M250.6 153.4h0M255.3 151.2h0M247.2 154.4h0M245.5 150.6h0M251.4 154.1h0M243.3 157.1h0M240.8 154.7h0M247.9 153.4h0M247.0 158.3h0M248.6 151.7h0M247.5 156.8h0M251.1 153.3h0M248.8 154.7h0M247.3 154.2h0M247.9 154.5h0M252.3 154.0h0M253.6 152.0h0M253.3 152.6h0M252.5 155.3h0M236.5 153.8h0M245.7 151.0h0M248.5 152.2h0M250.6 152.3h0M243.3 154.0h0M255.4 154.6h0M250.9 154.4h0M247.3 152.4h0M250.4 154.2h0M248.4 150.4h0M246.7 146.3h0M251.8 154.0h0M247.9 149.6h0M244.1 151.6h0M247.2 150.8h0M249.3 155.8h0M245.4 150.8h0M254.8 154.8h0M245.4 152.8h0M256.8 150.8h0M253.3 149.8h0M246.0 155.3h0M250.3 155.1h0M254.5 156.2h0M249.0 159.0h0M245.0 154.8h0M250.2 154.8h0M257.7 153.7h0M243.8 154.3h0M252.0 153.1h0M249.8 151.6h0M249.3 159.4h0M248.2 149.0h0M248.5 154.7h0M253.9 155.2h0M252.2 154.4h0M245.8 151.4h0M256.0 153.5h0M244.6 152.8h0M252.4 151.1h0M250.5 153.9h0M254.6 152.9h0M251.2 152.5h0M254.0 155.9h0M249.7 151.2h0" stroke="#000" stroke-width="0.8" stroke-linecap="round" opacity="0.3" fill="none" filter="url(#bd)"/>
<ellipse cx="236" cy="154.5" rx="12" ry="2.6" transform="rotate(-5 236 154.5)" filter="url(#b3)" opacity="0.13"/>
<path d="M241.2 160.4h0M231.9 152.3h0M240.2 151.9h0M237.6 155.0h0M239.0 155.2h0M229.1 153.8h0M230.8 155.2h0M229.8 151.8h0M238.3 153.6h0M243.1 155.6h0M245.9 156.9h0M232.9 154.5h0M237.6 153.8h0M224.2 156.7h0M219.6 158.5h0M230.2 156.1h0M231.5 153.4h0M224.7 156.4h0M223.0 157.9h0M241.0 152.5h0M230.2 152.3h0M223.7 156.9h0M255.4 153.2h0M238.5 156.3h0M234.4 154.8h0M242.1 152.5h0M230.7 154.1h0M249.2 150.9h0M224.4 153.7h0M226.3 154.3h0M235.6 153.5h0M231.0 157.4h0M247.7 150.7h0M224.1 155.6h0M230.9 153.8h0M239.0 157.3h0M241.3 154.5h0M244.7 152.8h0M239.7 155.8h0M254.3 152.7h0M232.9 153.8h0M238.5 157.5h0M243.7 155.2h0M234.6 158.3h0M234.7 157.1h0M233.2 156.4h0M231.6 155.2h0M227.5 153.1h0M232.5 156.4h0M224.4 155.9h0M239.9 155.5h0M224.1 155.7h0M252.9 151.3h0M249.9 150.9h0M245.6 155.0h0M235.3 157.3h0M231.9 154.3h0M246.5 154.4h0M238.4 157.2h0M240.9 152.2h0M230.9 154.3h0M244.8 151.2h0M230.6 157.6h0M237.5 154.9h0M222.8 154.9h0M231.1 151.6h0M240.6 153.7h0M233.3 156.9h0M233.0 154.2h0M242.8 152.9h0M236.2 155.8h0M246.2 150.9h0M217.5 156.6h0M241.2 155.2h0M240.4 152.4h0M224.2 154.0h0M226.4 156.1h0M243.5 153.5h0M228.1 154.9h0M231.6 155.4h0M241.4 154.4h0M233.7 152.8h0M240.2 152.7h0M229.8 156.1h0M239.2 156.5h0M245.4 156.4h0M239.0 152.4h0M219.4 158.6h0M241.9 155.5h0M237.0 154.4h0M229.5 156.2h0M247.8 155.0h0M223.1 159.6h0M251.2 150.7h0M231.7 156.2h0M249.0 152.9h0M236.2 154.1h0M226.3 158.0h0M237.5 156.1h0M239.0 152.1h0M240.8 153.4h0M245.0 154.1h0M229.1 152.3h0M240.7 155.9h0M242.4 153.7h0M234.4 155.0h0M229.2 156.0h0M229.4 159.0h0M242.5 153.9h0M242.8 153.1h0M230.4 158.8h0M225.8 154.6h0M246.3 152.4h0M224.0 152.9h0M238.1 156.6h0M230.2 155.7h0M222.8 156.9h0M237.6 154.7h0M235.0 154.4h0M247.8 151.7h0M254.4 151.0h0M235.2 155.5h0M244.7 153.9h0M245.2 157.0h0M232.2 153.4h0M229.6 154.2h0M249.1 151.0h0M234.0 157.6h0M236.1 152.0h0M234.4 156.3h0M235.8 157.6h0M231.7 154.7h0M242.6 155.4h0M246.0 149.0h0M233.5 154.0h0M225.3 152.2h0M237.0 154.8h0M224.8 155.7h0M231.3 153.4h0M246.5 155.4h0M255.0 153.3h0M239.4 153.1h0M228.0 154.3h0M242.4 150.8h0M218.7 156.0h0M231.5 159.4h0M248.5 151.8h0M242.5 154.7h0M225.5 154.5h0M223.6 157.5h0M243.4 154.7h0M236.1 154.1h0M231.5 151.3h0M239.7 153.1h0M232.3 157.4h0M221.3 155.6h0M243.1 155.1h0M231.3 154.0h0M228.2 151.5h0M226.1 156.5h0M238.6 154.9h0M230.1 154.0h0M241.4 153.2h0M234.5 155.3h0M245.0 152.4h0M233.6 155.5h0M231.3 154.6h0M220.4 151.3h0M227.8 155.1h0M242.1 152.7h0" stroke="#000" stroke-width="0.8" stroke-linecap="round" opacity="0.2" fill="none" filter="url(#bd)"/>
<ellipse cx="250" cy="186" rx="2.5" ry="4.4" transform="rotate(25 250 186)" filter="url(#b1)" opacity="0.7"/>
<ellipse cx="249.6" cy="186.5" rx="4.2" ry="6.4" transform="rotate(25 249.6 186.5)" filter="url(#b2)" opacity="0.42"/>
<path d="M247.2 184.9h0M252.0 184.1h0M248.1 185.6h0M248.0 193.5h0M251.5 190.3h0M250.8 184.6h0M246.5 181.1h0M248.3 183.4h0M250.8 190.3h0M244.7 194.7h0M249.5 180.3h0M249.3 186.2h0M251.8 185.2h0M251.9 183.1h0M250.5 189.0h0M245.9 187.8h0M251.8 179.3h0M251.0 181.1h0M246.8 191.9h0M242.8 185.0h0M247.7 188.4h0M246.8 182.2h0M254.3 186.4h0M253.0 190.5h0M255.4 186.2h0M254.3 182.2h0M248.1 185.7h0M250.3 191.8h0M251.2 181.2h0M249.0 192.1h0M245.4 188.4h0M249.7 181.5h0M250.8 187.0h0M254.7 188.5h0M248.1 189.2h0M254.5 192.4h0M260.3 183.9h0M248.8 178.3h0M247.2 191.1h0M246.5 185.6h0M248.2 188.1h0M247.3 187.2h0M246.0 193.4h0M254.9 182.0h0M249.8 192.7h0M252.1 182.8h0M248.0 189.7h0M247.0 192.7h0M252.9 180.0h0M250.3 189.0h0M250.1 185.0h0M251.6 185.6h0M245.7 184.8h0M254.1 182.5h0M256.6 184.2h0M248.6 189.6h0M243.6 188.4h0M254.6 185.5h0M251.8 179.1h0M235.9 193.1h0M246.5 191.2h0M250.5 188.8h0M252.9 182.0h0M254.4 185.3h0M250.8 188.3h0M252.0 182.0h0M240.4 191.1h0M246.0 185.5h0M249.2 188.4h0M253.7 182.4h0M248.6 180.7h0M249.5 181.8h0M250.3 188.2h0M244.6 182.5h0M244.6 182.4h0M248.2 187.5h0M249.8 187.7h0M244.9 192.6h0M243.4 182.3h0M251.8 181.6h0M245.8 184.5h0M248.2 194.0h0M250.4 183.6h0M250.2 186.9h0M252.2 185.5h0M247.2 187.5h0M251.4 188.6h0M254.9 184.2h0M251.2 185.8h0M251.3 192.5h0M245.4 190.6h0M250.2 191.8h0M248.4 190.7h0M247.4 183.5h0M250.1 184.5h0M246.0 189.9h0M250.5 180.2h0M249.9 186.2h0M256.6 179.1h0M249.4 184.1h0M251.4 183.2h0M247.9 178.8h0M248.6 189.2h0M254.4 184.5h0M252.7 185.7h0M251.5 185.8h0M249.6 182.2h0M243.7 191.6h0M250.3 183.9h0M245.3 185.5h0M248.8 178.6h0M253.3 185.4h0M247.6 183.6h0M255.4 187.3h0M246.7 181.7h0M250.5 187.6h0M242.8 192.0h0M250.3 186.0h0M246.9 184.3h0M250.5 184.6h0M243.6 197.9h0M244.8 193.2h0M249.8 189.6h0M252.4 191.6h0M249.4 182.3h0M252.4 186.8h0M249.3 187.4h0M249.2 186.8h0M257.7 185.3h0M245.0 179.8h0M246.5 187.8h0M243.7 185.4h0M253.2 176.2h0M248.7 186.5h0M257.7 197.3h0M251.9 183.8h0M254.2 189.9h0M256.4 181.4h0M246.5 189.6h0M253.3 181.8h0M257.0 182.8h0M250.7 185.1h0M245.0 197.6h0M252.3 184.2h0M247.9 178.5h0M246.2 187.4h0M250.0 187.8h0M247.5 194.7h0M249.6 179.2h0M252.0 178.5h0M249.9 184.7h0M248.3 187.9h0M250.8 188.9h0M247.5 191.5h0M253.2 179.7h0M247.2 180.6h0M246.8 184.3h0M248.6 190.7h0M243.9 186.4h0M251.2 184.8h0M249.8 180.7h0M245.3 189.3h0M249.3 191.6h0M241.7 198.0h0M247.4 184.4h0M244.1 192.9h0M252.3 180.8h0M258.6 187.5h0M244.9 180.4h0M250.5 184.2h0M250.7 182.0h0M253.4 185.1h0M248.6 185.6h0M243.4 180.9h0M251.9 191.2h0M246.6 184.5h0M249.3 186.2h0M242.4 191.3h0M245.7 186.3h0M247.7 186.4h0M252.0 187.4h0M251.8 187.8h0M246.5 188.2h0M252.7 183.3h0M246.0 191.1h0M246.4 193.7h0M247.5 191.9h0M252.3 184.9h0M251.2 178.1h0M250.1 184.1h0M249.8 187.3h0M248.0 190.3h0M247.6 184.4h0M255.1 187.2h0M244.9 192.7h0M253.1 184.3h0M247.8 191.5h0M251.1 192.1h0M246.1 177.3h0M254.8 190.4h0M250.1 183.5h0M248.0 180.3h0M253.8 178.0h0M259.4 182.1h0M250.0 188.9h0M246.8 182.9h0M247.6 187.0h0M255.6 183.2h0M246.1 183.0h0M249.5 184.8h0M252.0 178.8h0M259.3 181.6h0M247.7 188.0h0M252.9 188.8h0M249.5 181.1h0M247.4 184.8h0M250.9 190.7h0M247.3 195.6h0M246.4 179.9h0M250.0 190.0h0M246.8 197.0h0M247.6 185.8h0M247.0 193.4h0M255.8 174.7h0M245.0 192.4h0M247.8 185.5h0M251.6 176.8h0M247.0 189.6h0M243.4 189.4h0M246.7 191.8h0M242.6 189.9h0M249.8 186.3h0M250.8 182.8h0M247.5 182.8h0M252.0 187.3h0M254.2 190.8h0M254.3 185.9h0M245.4 184.7h0M251.2 192.1h0M249.4 188.1h0" stroke="#000" stroke-width="0.8" stroke-linecap="round" opacity="0.28" fill="none" filter="url(#bd)"/>
<path d="M254.3 193.1h0M252.0 196.9h0M240.3 191.3h0M247.0 182.3h0M241.9 186.3h0M240.8 190.0h0M246.0 194.8h0M239.5 194.5h0M246.2 179.5h0M245.1 189.1h0M247.3 194.3h0M242.1 194.7h0M241.2 196.8h0M251.2 187.2h0M248.4 188.9h0M249.8 185.9h0M247.6 195.0h0M245.1 182.2h0M244.3 195.5h0M241.7 193.0h0M248.6 193.7h0M253.4 181.5h0M243.7 185.0h0M249.2 195.4h0M244.8 181.5h0M250.6 190.7h0M246.9 189.7h0M241.0 192.3h0M241.4 189.2h0M244.3 190.5h0M246.8 187.8h0M243.4 188.7h0M248.2 190.1h0M239.4 190.7h0M246.3 189.0h0M243.8 194.4h0M242.8 179.1h0M244.6 195.7h0M241.8 186.9h0M234.7 190.7h0M243.6 189.2h0M243.4 193.3h0M246.1 198.0h0M245.4 186.5h0M251.0 192.6h0M251.4 191.4h0M249.4 192.6h0M254.1 184.8h0M247.6 189.6h0M244.5 187.8h0M249.9 187.4h0M249.8 190.5h0M250.0 183.3h0M242.2 195.7h0M239.4 189.2h0M244.4 199.4h0M249.0 186.5h0M243.7 182.4h0M245.7 191.2h0M252.0 183.5h0" stroke="#000" stroke-width="0.8" stroke-linecap="round" opacity="0.12" fill="none" filter="url(#bd)"/>
</g>
<!-- boxes -->
<g fill="none" stroke="#141414" stroke-width="1.1">
<rect x="28" y="41" width="75.3" height="75"/><rect x="114.5" y="41" width="75.3" height="75"/><rect x="201.6" y="41" width="75.2" height="75"/>
<rect x="28" y="128.6" width="75.3" height="75.4"/><rect x="114.5" y="128.6" width="75.3" height="75.4"/><rect x="201.6" y="128.6" width="75.2" height="75.4"/>
</g>
<g stroke="#5a5a5a" stroke-width="0.8">
<path d="M63.3 41V116M28 81.3H103.3M149.5 41V116M114.5 81.3H189.8M236.7 41V116M201.6 81.3H276.8"/>
<path d="M63.3 128.6V204M28 168.7H103.3M149.5 128.6V204M114.5 168.7H189.8M236.7 128.6V204M201.6 168.7H276.8"/>
</g>
<!-- texts -->
<g class="tm">
<text x="33" y="51">0 min</text><text x="117" y="51">30 min</text><text x="205.5" y="50.6">60 min</text>
<text x="30" y="137.4">90 min</text><text x="118" y="137" font-size="8.6">120 min</text><text x="203.3" y="137" font-size="8.6">180 min</text>
</g>
<g class="pc">
<text x="103.6" y="51.5" text-anchor="end">1.3%</text><text x="30.5" y="92">93%</text><text x="103.6" y="114.5" text-anchor="end">1.4%</text>
<text x="192.2" y="50.5" text-anchor="end">7.5%</text><text x="116.5" y="89.6">82.6%</text><text x="193.4" y="113.5" text-anchor="end">5.9%</text>
<text x="278" y="50.5" text-anchor="end">14.3%</text><text x="202.5" y="89.6">62.6%</text><text x="279.5" y="112" text-anchor="end">11.8%</text>
<text x="103.6" y="138.5" text-anchor="end">32.8%</text><text x="28.5" y="178.2">49.9%</text><text x="103.6" y="201" text-anchor="end">11.9%</text>
<text x="189.5" y="137.5" text-anchor="end">24.7%</text><text x="116" y="177.6">30.5%</text><text x="192.2" y="201" text-anchor="end">29.7%</text>
<text x="276" y="138" text-anchor="end">36.6%</text><text x="204" y="178.2">9.9%</text><text x="279" y="200.5" text-anchor="end">46.8%</text>
</g>

<text font-size="16" transform="translate(15,191.2) rotate(-90)">Propidium Iodide</text>
<text font-size="16" x="105" y="229.5">Annexin-FITC</text>
</g>

<!-- ===== PANEL B ===== -->
<g id="B">
<text class="b" x="313.6" y="20.9" textLength="19" lengthAdjust="spacingAndGlyphs">B</text>
<!-- frame -->
<rect x="343" y="42.3" width="145.3" height="136.4" fill="none" stroke="#a0a0a0" stroke-width="0.85"/>
<g stroke="#9a9a9a" stroke-width="0.7"><path d="M341.3 48.6H343M341.3 74.6H343M341.3 100.6H343M341.3 126.7H343M341.3 152.7H343M341.3 178.7H343"/></g>
<!-- bars -->
<g fill="#101010">
<rect x="355.5" y="161.4" width="11" height="17.3"/>
<rect x="374" y="48.6" width="11" height="130.1"/>
<rect x="392.2" y="85" width="10.8" height="93.7"/>
<rect x="410" y="115.8" width="11" height="62.9"/>
<rect x="428.2" y="148.8" width="11" height="29.9"/>
<rect x="446.3" y="146.5" width="11" height="32.2"/>
<rect x="464.7" y="143.8" width="11" height="34.9"/>
</g>
<g stroke="#8c8c8c" stroke-width="0.8" fill="none">
<path d="M361 161.4V159M359.3 159h3.4"/>
<path d="M397.6 85V81.6M395.8 81.6h3.6"/>
<path d="M433.7 148.8V144.2M431.9 144.2h3.6"/>
<path d="M451.8 146.5V145.6M450 145.6h3.6"/>
<path d="M470.2 143.8V140.3M468.4 140.3h3.6"/>
</g>
<!-- y tick labels -->
<g font-size="8.6" text-anchor="end" fill="#222">
<text x="336.4" y="51.7">100</text><text x="336.4" y="77.8">80</text><text x="336.4" y="103.9">60</text><text x="336.4" y="130">40</text><text x="336.4" y="156.1">20</text><text x="336.4" y="181.8">0</text>
</g>
<text font-size="10.45" transform="translate(321.7,160.7) rotate(-90)">% Max PI positive cells</text>
<!-- x labels rotated -->
<g font-size="10.5" text-anchor="end">
<text transform="translate(366.3,187) rotate(-45)">untreated</text>
<text transform="translate(384.8,187) rotate(-45)">10 µM CPS45</text>
<text transform="translate(402.8,187) rotate(-45)">+z-VAD</text>
<text transform="translate(420.8,187) rotate(-45)">+Ebselen</text>
<text transform="translate(438.8,187) rotate(-45)">+NAC</text>
<text transform="translate(456.8,187) rotate(-45)">+DPI</text>
<text transform="translate(475.3,187) rotate(-45)">+MnTBAP</text>
</g>
<!-- annotations -->
<g font-size="10.45">
<text x="409.6" y="56">z-VAD</text><text x="413.6" y="83">Ebselen</text><text x="438.6" y="101.3">NAC</text><text x="454.2" y="116.6">DPI</text><text x="467.3" y="128.3">MnTBAP</text>
</g>
<g stroke="#0c0c0c" stroke-width="1.2" fill="#0c0c0c">
<path d="M410 59.5L399.6 77.5" fill="none"/><path d="M398.9 78.7l0.6-5 3.2 1.9z"/>
<path d="M419.8 86.5L413.2 108.8" fill="none"/><path d="M412.8 110.1l-0.5-5 3.6 1.1z"/>
<path d="M444.6 104.6L433.8 139.5" fill="none"/><path d="M433.4 140.8l-0.5-5 3.6 1.1z"/>
<path d="M457.4 119.9L450 140" fill="none"/><path d="M449.6 141.3l-0.2-5 3.5 1.3z"/>
<path d="M472.7 131L470 137.6" fill="none"/><path d="M469.6 138.8l0-4.6 3.2 1.3z"/>
</g>

</g>

<!-- ===== PANEL C ===== -->
<g id="C">
<text class="b" x="3.9" y="278.6">C</text>
<rect x="116.3" y="320.7" width="152.4" height="133.8" fill="none" stroke="#8c8c8c" stroke-width="0.85"/>
<path d="M126.9 454.5v-1.8M126.9 320.7v1.8M148.8 454.5v-1.8M148.8 320.7v1.8M170.6 454.5v-1.8M170.6 320.7v1.8M192.5 454.5v-1.8M192.5 320.7v1.8M214.4 454.5v-1.8M214.4 320.7v1.8M236.2 454.5v-1.8M236.2 320.7v1.8M258.1 454.5v-1.8M258.1 320.7v1.8M116.3 454.5h1.8M268.7 454.5h-1.8M116.3 430.3h1.8M268.7 430.3h-1.8M116.3 406.0h1.8M268.7 406.0h-1.8M116.3 381.8h1.8M268.7 381.8h-1.8M116.3 357.5h1.8M268.7 357.5h-1.8M116.3 333.3h1.8M268.7 333.3h-1.8" stroke="#8e8e8e" stroke-width="0.7" fill="none"/>
<path d="M159.7 372.1V356.9M157.9 356.9h3.6M192.5 383.0V350.3M190.7 350.3h3.6M225.3 389.1V380.6M223.5 380.6h3.6M258.1 396.3V392.7M256.3 392.7h3.6M126.9 435.1V429.0M125.1 429.0h3.6M159.7 404.8V387.8M157.9 387.8h3.6M192.5 374.5V349.1M190.7 349.1h3.6M225.3 345.4V325.4M223.5 325.4h3.6M159.7 431.5V418.1M157.9 418.1h3.6" stroke="#848484" stroke-width="0.8" fill="none"/>
<polyline points="126.9,333.3 159.7,372.1 192.5,383.0 225.3,389.1 258.1,396.3" fill="none" stroke="#3a3a3a" stroke-width="0.8"/>
<polyline points="126.9,449.7 159.7,431.5 192.5,389.1 225.3,352.7 258.1,333.3" fill="none" stroke="#3a3a3a" stroke-width="0.8"/>
<polyline points="126.9,435.1 159.7,404.8 192.5,374.5 225.3,345.4 258.1,333.3" fill="none" stroke="#3a3a3a" stroke-width="0.8"/>
<path d="M122.7 330.4h8.4l-4.2 7z" fill="#0c0c0c"/>
<path d="M155.5 369.2h8.4l-4.2 7z" fill="#0c0c0c"/>
<path d="M188.3 380.1h8.4l-4.2 7z" fill="#0c0c0c"/>
<path d="M221.1 386.2h8.4l-4.2 7z" fill="#0c0c0c"/>
<path d="M253.9 393.4h8.4l-4.2 7z" fill="#0c0c0c"/>
<circle cx="126.9" cy="449.7" r="4.1" fill="#0c0c0c"/>
<circle cx="159.7" cy="431.5" r="4.1" fill="#0c0c0c"/>
<circle cx="192.5" cy="389.1" r="4.1" fill="#0c0c0c"/>
<circle cx="225.3" cy="352.7" r="4.1" fill="#0c0c0c"/>
<circle cx="258.1" cy="333.3" r="4.1" fill="#0c0c0c"/>
<circle cx="126.9" cy="435.1" r="4.1" fill="#fff" stroke="#2c2c2c" stroke-width="0.85"/>
<circle cx="159.7" cy="404.8" r="4.1" fill="#fff" stroke="#2c2c2c" stroke-width="0.85"/>
<circle cx="192.5" cy="374.5" r="4.1" fill="#fff" stroke="#2c2c2c" stroke-width="0.85"/>
<circle cx="225.3" cy="345.4" r="4.1" fill="#fff" stroke="#2c2c2c" stroke-width="0.85"/>
<circle cx="258.1" cy="333.3" r="4.1" fill="#fff" stroke="#2c2c2c" stroke-width="0.85"/>
<g font-size="9" text-anchor="end" fill="#222"><text x="111" y="457.1">0</text><text x="111" y="432.9">20</text><text x="111" y="408.6">40</text><text x="111" y="384.4">60</text><text x="111" y="360.1">80</text><text x="111" y="335.9">100</text></g>
<g font-size="9" text-anchor="middle" fill="#222"><text x="126.9" y="468.4">0</text><text x="148.8" y="468.4">10</text><text x="170.6" y="468.4">20</text><text x="192.5" y="468.4">30</text><text x="214.4" y="468.4">40</text><text x="236.2" y="468.4">50</text><text x="258.1" y="468.4">60</text></g>
<text font-size="13" transform="translate(85,433.5) rotate(-90)">% of Maximum</text>
<text font-size="12.8" x="159.6" y="492.3">Time (Min)</text>
<rect x="210.2" y="280.5" width="80" height="39.8" fill="#fff" stroke="#8c8c8c" stroke-width="0.85"/>
<path d="M214.4 284.6h7.2l-3.6 5.2z" fill="#0c0c0c"/>
<circle cx="218" cy="300.6" r="2.9" fill="#fff" stroke="#333" stroke-width="0.7"/>
<circle cx="218" cy="311.3" r="3.1" fill="#0c0c0c"/>
<text font-size="10" x="225.5" y="290.6"><tspan class="ser" font-size="10.5">(ΔΨ</tspan><tspan dy="2.4" font-size="10.8">m</tspan><tspan class="ser" dy="-2.4" font-size="10.5">)</tspan></text>
<text font-size="10" x="225" y="302.7">Calcium<tspan dy="2">i</tspan></text>
<text font-size="10" x="228.5" y="313.9">ROS (H<tspan dy="2">2</tspan><tspan dy="-2">O</tspan><tspan dy="2">2</tspan><tspan dy="-2">)</tspan></text>
</g>

<!-- ===== PANEL D ===== -->
<g id="D">
<text class="b" x="307.8" y="277.6">D</text>
<g font-size="11.3" fill="#1a1a1a" stroke="#1a1a1a" stroke-width="0.15">
<text x="409.2" y="292.3" text-anchor="end" font-size="11.1">10 µM CPS45</text>
<text x="409.2" y="305" text-anchor="end" font-size="11.5">PHA/PMA</text>
<text x="507" y="298.3" font-size="11">8h</text>
<text x="369.4" y="330.6" text-anchor="middle">Caspase 7</text>
<text x="371.2" y="344.2" text-anchor="middle" class="it" font-size="11.5">(cytosol)</text>
<text x="370.8" y="387.6" text-anchor="middle">Caspase 7</text>
<text x="371.4" y="398.9" text-anchor="middle" class="it" font-size="11.2">(nuclear)</text>
<text x="371" y="440.5" text-anchor="middle">Caspase 3</text>
<text x="371.3" y="451.6" text-anchor="middle" class="it" font-size="11.2">(nuclear)</text>
<text x="371.5" y="481.3" text-anchor="middle">PARP</text>
<text x="371.3" y="490.8" text-anchor="middle" class="it" font-size="11.2">(nuclear)</text>
</g>
<!-- +/- -->
<g stroke="#111" stroke-width="1.5" fill="none">
<path d="M422.6 288.3h4.6M443.4 288.3h4.6M459.9 288.3h7.4M463.6 284.6v7.4M481.8 288.3h7.4M485.5 284.6v7.4"/>
<path d="M422.6 300.5h4.6M442 300.5h7.4M445.7 296.8v7.4M462 300.5h4.6M481.9 300.5h7.4M485.6 296.8v7.4"/>
</g>
<!-- blot 1 -->
<clipPath id="c1"><rect x="413.6" y="308.6" width="86" height="46.4"/></clipPath>
<g clip-path="url(#c1)">
<rect x="412" y="307" width="90" height="50" fill="#ececec"/>
<rect x="410" y="303" width="94" height="22" fill="#d4d4d4" filter="url(#b3)"/>
<rect x="412" y="326" width="80" height="6" fill="#d0d0d0" filter="url(#b2)"/>
<g filter="url(#bb)" fill="#070707">
<rect x="414.2" y="317.6" width="21.5" height="10.6" rx="4"/>
<rect x="434" y="319" width="22" height="9" rx="3.8"/>
<rect x="454.5" y="316.8" width="22.5" height="11.6" rx="4.5"/>
<path d="M475.5 318.8 C482 317.6 492 318.2 497.5 319.4 C500 320 500 323 497.5 323.8 C492 325.4 484 327 475.5 327z"/>
<rect x="430" y="320.5" width="50" height="6"/>
</g>
<g filter="url(#bb)">
<rect x="437.3" y="346.3" width="15" height="2.6" rx="1.2" fill="#5e5e5e"/>
<rect x="478.5" y="346.8" width="9" height="2" rx="1" fill="#8a8a8a"/><rect x="486" y="345.9" width="8" height="1.6" rx="0.8" fill="#b4b4b4"/>
<rect x="478" y="329.8" width="8" height="1.4" fill="#b0b0b0" transform="rotate(-8 482 330)"/>
</g>
</g>
<rect x="412.3" y="307.3" width="88.5" height="49" fill="none" stroke="#111" stroke-width="1.1"/>
<!-- blot 2 -->
<clipPath id="c2"><rect x="413.6" y="365.6" width="87.4" height="51"/></clipPath>
<g clip-path="url(#c2)">
<rect x="412" y="364" width="91" height="54" fill="#f4f4f4"/>
<rect x="410" y="360" width="94" height="14" fill="#d9d9d9" filter="url(#b3)"/>
<g filter="url(#bb)" fill="#070707">
<rect x="414.4" y="370.8" width="21.2" height="8.6" rx="4"/>
<rect x="434.5" y="372" width="21.5" height="6.6" rx="3"/>
<rect x="455.5" y="370.6" width="22" height="9" rx="4.2"/>
<path d="M478.5 372.6 C484 371.6 493 372.2 498 373.2 C500 373.8 500 375.8 498 376.4 C493 377.4 485 378.2 478.5 377.8z"/>
<rect x="430" y="373.4" width="50" height="3.4"/>
</g>
<g filter="url(#bb)">
<rect x="438" y="397" width="16.5" height="1.8" fill="#d2d2d2"/>
<rect x="481" y="396.8" width="15" height="1.6" fill="#dcdcdc"/>
<rect x="481" y="406" width="16" height="1.5" fill="#dedede"/>
</g>
</g>
<rect x="412.3" y="364.3" width="89.9" height="53.6" fill="none" stroke="#111" stroke-width="1.1"/>
<!-- blot 3 -->
<rect x="414.2" y="427" width="87.6" height="25.8" fill="#f3f3f3"/>
<g filter="url(#bt)">
<rect x="415.8" y="437.2" width="17.8" height="3.4" rx="1.6" fill="#060606"/>
<rect x="437.3" y="437.9" width="16.8" height="2.8" rx="1.3" fill="#4a4a4a"/>
<rect x="457.6" y="436.5" width="18.8" height="4.6" rx="2.2" fill="#020202"/>
<rect x="479.5" y="438.1" width="18" height="1.7" rx="0.8" fill="#b4b4b4"/>
</g>
<rect x="412.3" y="425" width="91.5" height="29.7" fill="none" stroke="#111" stroke-width="1.1"/>
<!-- blot 4 -->
<rect x="414.2" y="460.5" width="87.6" height="38.5" fill="#f2f2f2"/>
<g filter="url(#bt)">
<rect x="415.3" y="473.8" width="17.4" height="3" rx="1.4" fill="#080808"/>
<rect x="457.3" y="475" width="18.4" height="3" rx="1.4" fill="#111"/>
<rect x="437" y="475" width="14" height="1.4" fill="#dcdcdc"/>
<rect x="480" y="475.5" width="17" height="1.6" fill="#b8b8b8"/>
<rect x="416" y="487.2" width="16" height="1.8" fill="#909090"/>
<rect x="437" y="485.8" width="16.4" height="3.4" rx="1.6" fill="#181818"/>
<rect x="457.5" y="487.3" width="16" height="1.8" fill="#909090"/>
<rect x="479.6" y="485.7" width="20.6" height="3.8" rx="1.8" fill="#050505"/>
</g>
<rect x="412.3" y="458.6" width="91.5" height="42.3" fill="none" stroke="#111" stroke-width="1.1"/>
<!-- arrows -->
<g fill="#0a0a0a">
<path d="M502.7 348.4l8.2-4.4v3.4h5.8v2h-5.8v3.4z"/>
<path d="M502.5 397.2l8.4-4.4v3.4h5.8v2h-5.8v3.4z"/>
<path d="M505.4 487.2l8.5-4.5v3.5h5.7v2h-5.7v3.5z"/>
</g>

</g>
</svg>
</body></html>
